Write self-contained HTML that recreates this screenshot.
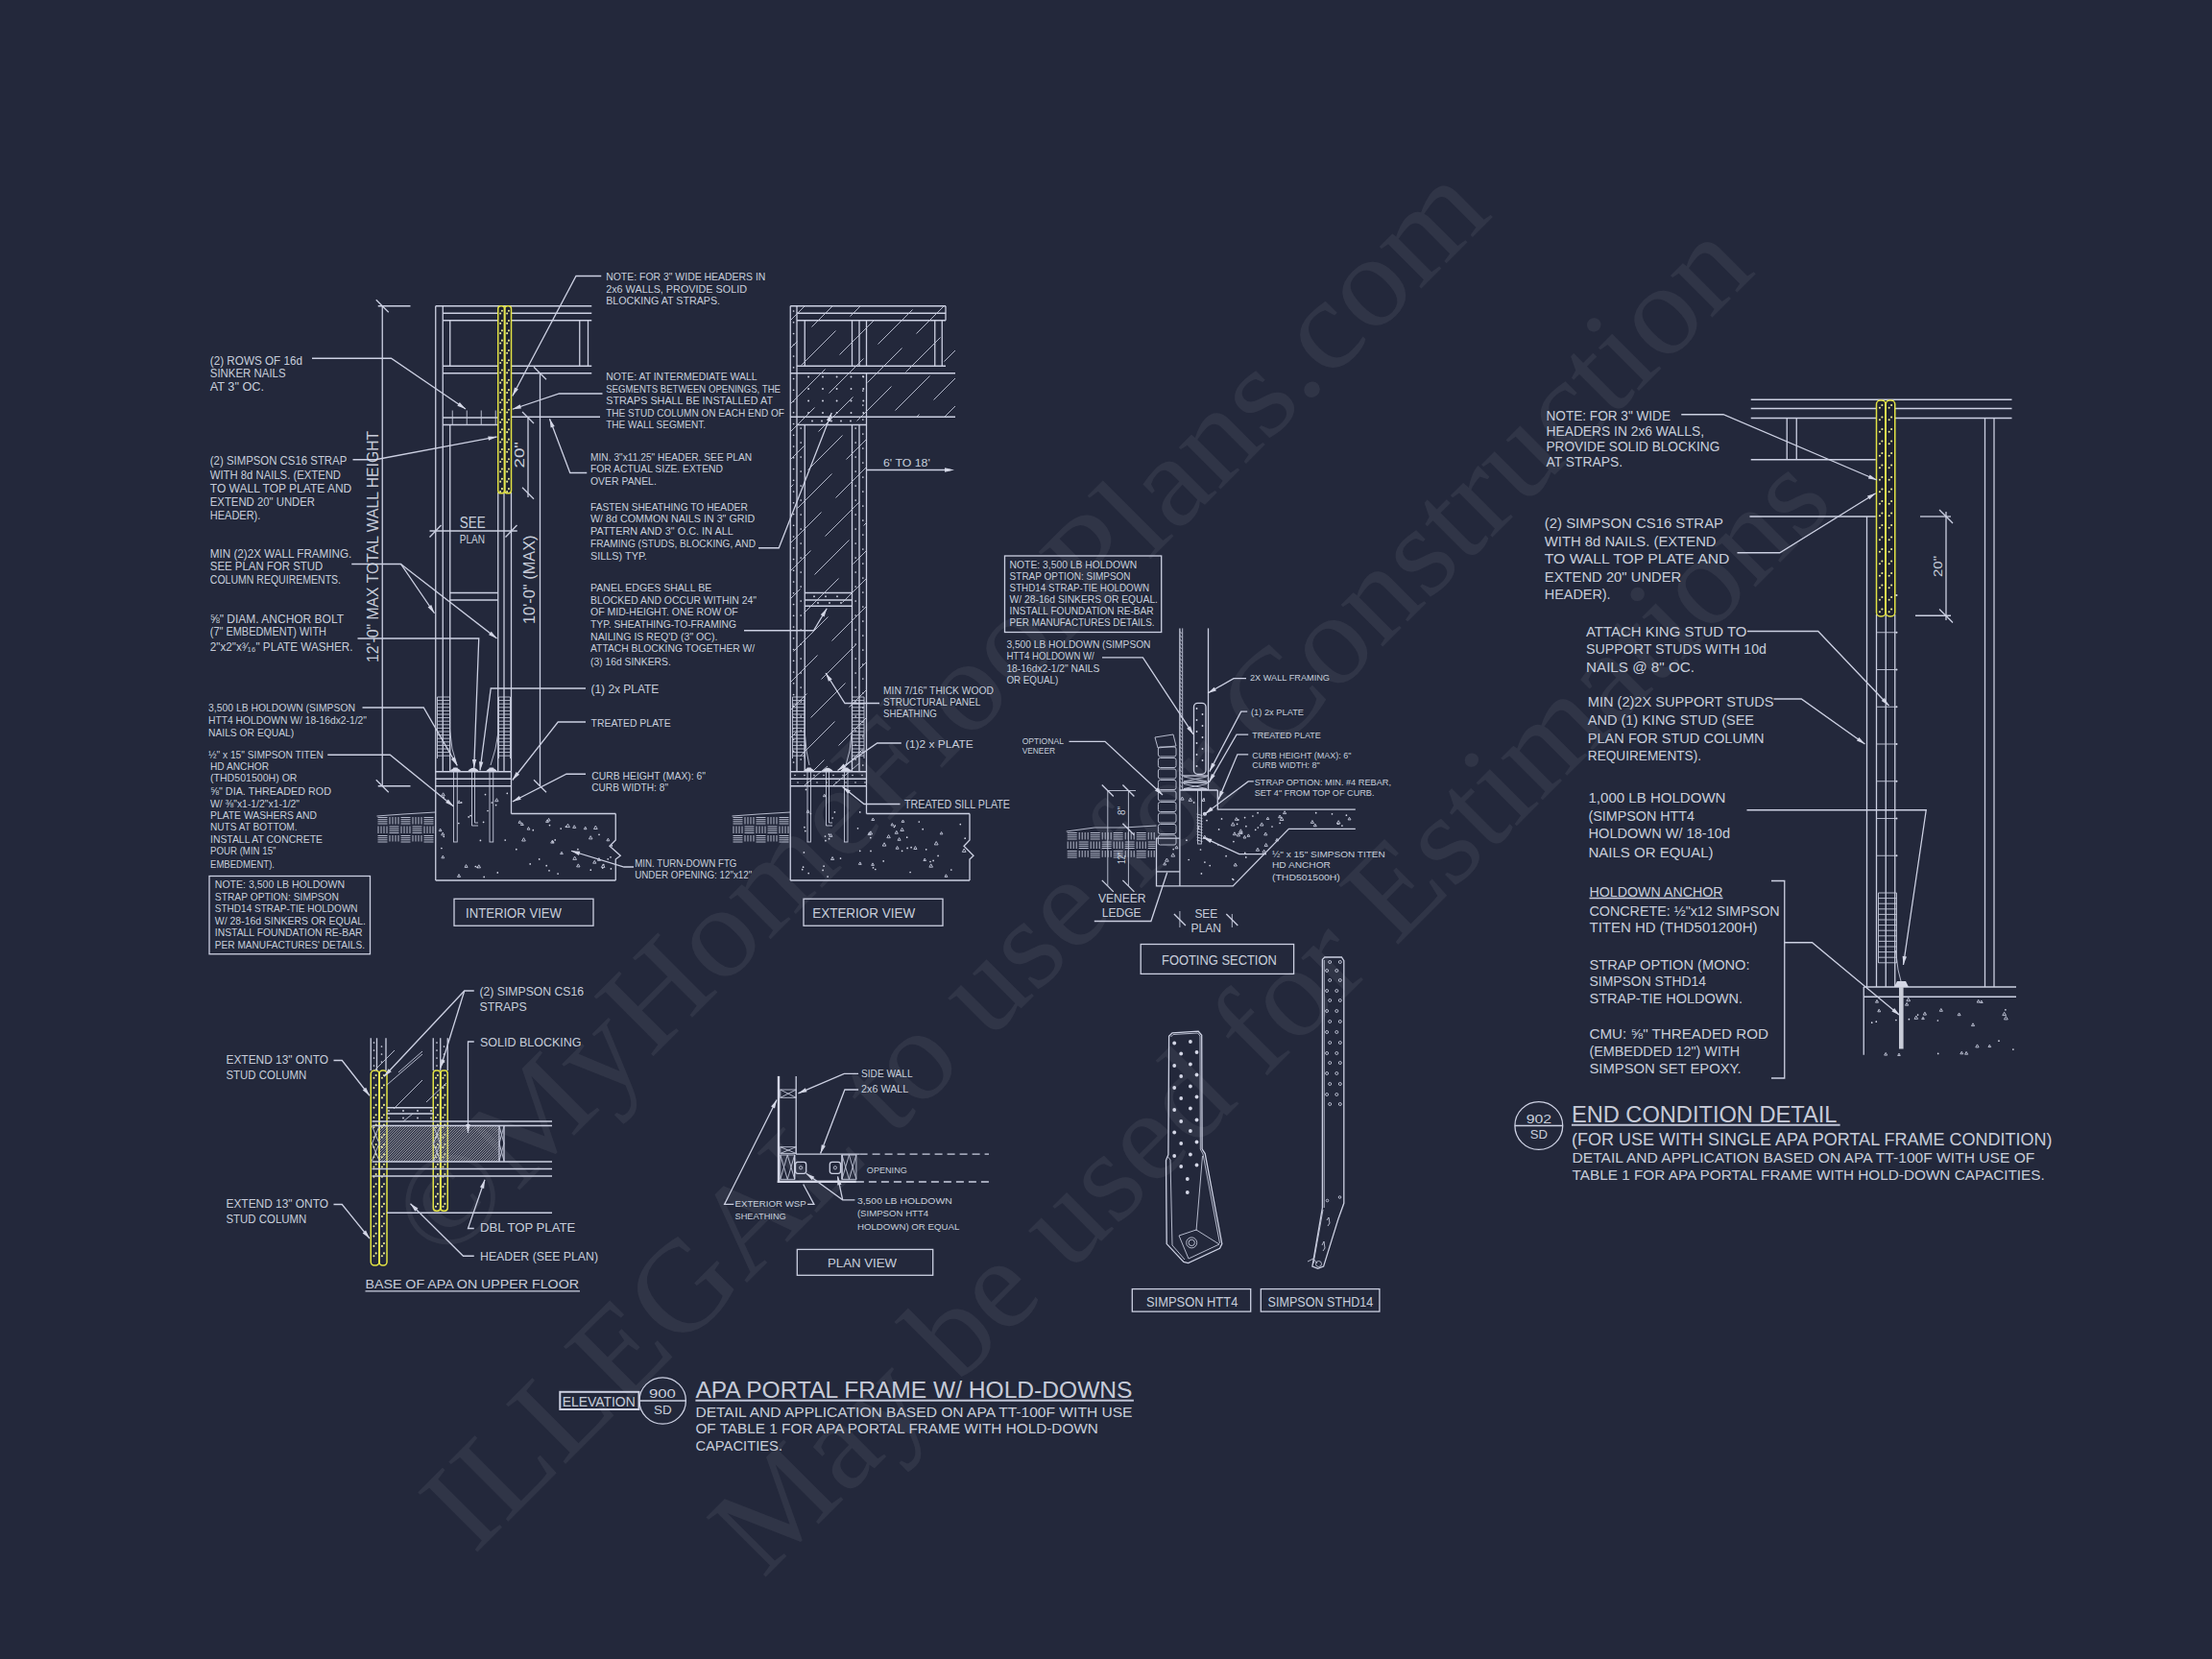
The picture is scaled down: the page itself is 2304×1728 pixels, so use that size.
<!DOCTYPE html>
<html><head><meta charset="utf-8"><style>
html,body{margin:0;padding:0;background:#23283b;width:2304px;height:1728px;overflow:hidden}
svg{display:block;position:absolute;left:0;top:0}
text{font-family:"Liberation Sans",sans-serif;fill:#dfe2ee;fill-opacity:0.9}
.wm text{font-family:"Liberation Serif",serif;fill:#ffffff;fill-opacity:0.062}
.l{fill:none;stroke:#ccd0e2;stroke-width:1.3}
.lt{fill:none;stroke:#c4c8da;stroke-width:0.9}
.lk{fill:none;stroke:#c0c4d6;stroke-width:2}
.ah{fill:#d4d7e6;stroke:none}
.y{fill:none;stroke:#e8e820;stroke-width:1.4}
.yd{fill:#ecec90}
.wd{fill:#d4d7e6}
.dash{fill:none;stroke:#ccd0e2;stroke-width:1.3;stroke-dasharray:8 5}
.hat{fill:none;stroke:#c8c8d0;stroke-width:0.8}
</style></head><body>
<svg width="2304" height="1728" viewBox="0 0 2304 1728">
<g class="wm">
<text transform="translate(462.0,1318.8) rotate(-45)" font-size="134" textLength="1547.6" lengthAdjust="spacingAndGlyphs">©MyHomeFloorPlans.com</text>
<text transform="translate(493.8,1620.1) rotate(-45)" font-size="134" textLength="1890.1" lengthAdjust="spacingAndGlyphs">ILLEGAL to use for Construction</text>
<text transform="translate(794.7,1645.3) rotate(-45)" font-size="134" textLength="1581" lengthAdjust="spacingAndGlyphs">May be used for Estimations</text>
</g>
<path class="l" d="M398.25 318.75 L398.25 818.75"/>
<path class="l" d="M391.75 312.25 L404.75 325.25"/>
<path class="l" d="M391.75 812.25 L404.75 825.25"/>
<path class="l" d="M393.75 318.75 L427.50 318.75"/>
<path class="l" d="M393.75 818.75 L427.50 818.75"/>
<path class="l" d="M453.75 318.75 L453.75 917.00"/>
<path class="l" d="M461.25 318.75 L461.25 803.75"/>
<path class="l" d="M453.75 318.75 L616.25 318.75"/>
<path class="l" d="M461.25 326.25 L616.25 326.25"/>
<path class="l" d="M461.25 333.75 L616.25 333.75"/>
<path class="l" d="M468.75 333.75 L468.75 381.25"/>
<path class="l" d="M603.75 333.75 L603.75 381.25"/>
<path class="l" d="M612.50 333.75 L612.50 381.25"/>
<path class="l" d="M461.25 381.25 L616.25 381.25"/>
<path class="l" d="M461.25 388.75 L616.25 388.75"/>
<path class="l" d="M562.50 388.75 L562.50 818.75"/>
<path class="l" d="M556.00 382.25 L569.00 395.25"/>
<path class="l" d="M556.00 812.25 L569.00 825.25"/>
<path class="l" d="M518.75 513.00 L518.75 803.75"/>
<path class="l" d="M525.00 513.00 L525.00 803.75"/>
<path class="l" d="M532.50 513.00 L532.50 803.75"/>
<path class="l" d="M461.25 435.00 L518.75 435.00"/>
<path class="l" d="M461.25 442.50 L518.75 442.50"/>
<path class="lt" d="M471.25 427.50 L471.25 442.50"/>
<path class="lt" d="M486.25 427.50 L486.25 442.50"/>
<path class="lt" d="M501.25 427.50 L501.25 442.50"/>
<path class="lt" d="M516.25 427.50 L516.25 442.50"/>
<path class="l" d="M468.75 442.50 L468.75 803.75"/>
<path class="l" d="M468.75 617.50 L518.75 617.50"/>
<path class="l" d="M468.75 625.00 L518.75 625.00"/>
<rect x="518.75" y="318.75" width="6.75" height="195.00" rx="2.87" ry="2.87" fill="#1e2130" stroke="#e2e244" stroke-width="1.5"/>
<circle class="yd" cx="522.93" cy="323.75" r="1.05"/>
<circle class="yd" cx="521.18" cy="326.55" r="1.05"/>
<circle class="yd" cx="522.93" cy="334.05" r="1.05"/>
<circle class="yd" cx="521.18" cy="336.85" r="1.05"/>
<circle class="yd" cx="522.93" cy="344.35" r="1.05"/>
<circle class="yd" cx="521.18" cy="347.15" r="1.05"/>
<circle class="yd" cx="522.93" cy="354.65" r="1.05"/>
<circle class="yd" cx="521.18" cy="357.45" r="1.05"/>
<circle class="yd" cx="522.93" cy="364.95" r="1.05"/>
<circle class="yd" cx="521.18" cy="367.75" r="1.05"/>
<circle class="yd" cx="522.93" cy="375.25" r="1.05"/>
<circle class="yd" cx="521.18" cy="378.05" r="1.05"/>
<circle class="yd" cx="522.93" cy="385.55" r="1.05"/>
<circle class="yd" cx="521.18" cy="388.35" r="1.05"/>
<circle class="yd" cx="522.93" cy="395.85" r="1.05"/>
<circle class="yd" cx="521.18" cy="398.65" r="1.05"/>
<circle class="yd" cx="522.93" cy="406.15" r="1.05"/>
<circle class="yd" cx="521.18" cy="408.95" r="1.05"/>
<circle class="yd" cx="522.93" cy="416.45" r="1.05"/>
<circle class="yd" cx="521.18" cy="419.25" r="1.05"/>
<circle class="yd" cx="522.93" cy="426.75" r="1.05"/>
<circle class="yd" cx="521.18" cy="429.55" r="1.05"/>
<circle class="yd" cx="522.93" cy="437.05" r="1.05"/>
<circle class="yd" cx="521.18" cy="439.85" r="1.05"/>
<circle class="yd" cx="522.93" cy="447.35" r="1.05"/>
<circle class="yd" cx="521.18" cy="450.15" r="1.05"/>
<circle class="yd" cx="522.93" cy="457.65" r="1.05"/>
<circle class="yd" cx="521.18" cy="460.45" r="1.05"/>
<circle class="yd" cx="522.93" cy="467.95" r="1.05"/>
<circle class="yd" cx="521.18" cy="470.75" r="1.05"/>
<circle class="yd" cx="522.93" cy="478.25" r="1.05"/>
<circle class="yd" cx="521.18" cy="481.05" r="1.05"/>
<circle class="yd" cx="522.93" cy="488.55" r="1.05"/>
<circle class="yd" cx="521.18" cy="491.35" r="1.05"/>
<circle class="yd" cx="522.93" cy="498.85" r="1.05"/>
<circle class="yd" cx="521.18" cy="501.65" r="1.05"/>
<circle class="yd" cx="522.93" cy="509.15" r="1.05"/>
<circle class="yd" cx="521.18" cy="511.95" r="1.05"/>
<rect x="525.75" y="318.75" width="6.75" height="195.00" rx="2.87" ry="2.87" fill="#1e2130" stroke="#e2e244" stroke-width="1.5"/>
<circle class="yd" cx="529.93" cy="323.75" r="1.05"/>
<circle class="yd" cx="528.18" cy="326.55" r="1.05"/>
<circle class="yd" cx="529.93" cy="334.05" r="1.05"/>
<circle class="yd" cx="528.18" cy="336.85" r="1.05"/>
<circle class="yd" cx="529.93" cy="344.35" r="1.05"/>
<circle class="yd" cx="528.18" cy="347.15" r="1.05"/>
<circle class="yd" cx="529.93" cy="354.65" r="1.05"/>
<circle class="yd" cx="528.18" cy="357.45" r="1.05"/>
<circle class="yd" cx="529.93" cy="364.95" r="1.05"/>
<circle class="yd" cx="528.18" cy="367.75" r="1.05"/>
<circle class="yd" cx="529.93" cy="375.25" r="1.05"/>
<circle class="yd" cx="528.18" cy="378.05" r="1.05"/>
<circle class="yd" cx="529.93" cy="385.55" r="1.05"/>
<circle class="yd" cx="528.18" cy="388.35" r="1.05"/>
<circle class="yd" cx="529.93" cy="395.85" r="1.05"/>
<circle class="yd" cx="528.18" cy="398.65" r="1.05"/>
<circle class="yd" cx="529.93" cy="406.15" r="1.05"/>
<circle class="yd" cx="528.18" cy="408.95" r="1.05"/>
<circle class="yd" cx="529.93" cy="416.45" r="1.05"/>
<circle class="yd" cx="528.18" cy="419.25" r="1.05"/>
<circle class="yd" cx="529.93" cy="426.75" r="1.05"/>
<circle class="yd" cx="528.18" cy="429.55" r="1.05"/>
<circle class="yd" cx="529.93" cy="437.05" r="1.05"/>
<circle class="yd" cx="528.18" cy="439.85" r="1.05"/>
<circle class="yd" cx="529.93" cy="447.35" r="1.05"/>
<circle class="yd" cx="528.18" cy="450.15" r="1.05"/>
<circle class="yd" cx="529.93" cy="457.65" r="1.05"/>
<circle class="yd" cx="528.18" cy="460.45" r="1.05"/>
<circle class="yd" cx="529.93" cy="467.95" r="1.05"/>
<circle class="yd" cx="528.18" cy="470.75" r="1.05"/>
<circle class="yd" cx="529.93" cy="478.25" r="1.05"/>
<circle class="yd" cx="528.18" cy="481.05" r="1.05"/>
<circle class="yd" cx="529.93" cy="488.55" r="1.05"/>
<circle class="yd" cx="528.18" cy="491.35" r="1.05"/>
<circle class="yd" cx="529.93" cy="498.85" r="1.05"/>
<circle class="yd" cx="528.18" cy="501.65" r="1.05"/>
<circle class="yd" cx="529.93" cy="509.15" r="1.05"/>
<circle class="yd" cx="528.18" cy="511.95" r="1.05"/>
<path d="M525.6 321 L525.6 511.5" stroke="#e6e650" stroke-width="1.6"/>
<path class="l" d="M550.00 434.00 L550.00 518.00"/>
<path class="l" d="M544.00 429.00 L556.00 441.00"/>
<path class="l" d="M544.00 507.75 L556.00 519.75"/>
<path class="l" d="M447.50 553.00 L538.75 553.00"/>
<path class="l" d="M447.50 559.50 L459.50 547.00"/>
<path class="l" d="M526.50 559.50 L538.50 547.00"/>
<path class="lt" d="M455.5 726.0 L468.5 726.0 M455.5 729.6 L468.5 729.6 M455.5 733.2 L468.5 733.2 M455.5 736.8 L468.5 736.8 M455.5 740.4 L468.5 740.4 M455.5 744.0 L468.5 744.0 M455.5 747.6 L468.5 747.6 M455.5 751.2 L468.5 751.2 M455.5 754.8 L468.5 754.8 M455.5 758.4 L468.5 758.4 M455.5 762.0 L468.5 762.0 M455.5 765.6 L468.5 765.6 M455.5 769.2 L468.5 769.2 M455.5 772.8 L468.5 772.8 M455.5 776.4 L468.5 776.4 M455.5 780.0 L468.5 780.0 M455.5 783.6 L468.5 783.6 M455.5 787.2 L468.5 787.2"/>
<path class="lt" d="M455.50 726.00 L455.50 790.00"/>
<path class="lt" d="M468.50 726.00 L468.50 790.00"/>
<path class="lt" d="M519.5 726.0 L531.5 726.0 M519.5 729.6 L531.5 729.6 M519.5 733.2 L531.5 733.2 M519.5 736.8 L531.5 736.8 M519.5 740.4 L531.5 740.4 M519.5 744.0 L531.5 744.0 M519.5 747.6 L531.5 747.6 M519.5 751.2 L531.5 751.2 M519.5 754.8 L531.5 754.8 M519.5 758.4 L531.5 758.4 M519.5 762.0 L531.5 762.0 M519.5 765.6 L531.5 765.6 M519.5 769.2 L531.5 769.2 M519.5 772.8 L531.5 772.8 M519.5 776.4 L531.5 776.4 M519.5 780.0 L531.5 780.0 M519.5 783.6 L531.5 783.6 M519.5 787.2 L531.5 787.2"/>
<path class="lt" d="M519.50 726.00 L519.50 790.00"/>
<path class="lt" d="M531.50 726.00 L531.50 790.00"/>
<path class="lt" d="M468.50 760.00 L471.00 780.00 L476.00 797.00"/>
<path class="lt" d="M519.50 760.00 L516.00 780.00 L511.00 797.00"/>
<rect class="lt" x="472.50" y="800.00" width="3.75" height="77.00"/>
<rect class="lt" x="510.00" y="800.00" width="3.75" height="77.00"/>
<path class="lt" d="M491.50 800.00 L491.50 860.00 L498.00 860.00"/>
<path class="lt" d="M494.50 800.00 L494.50 857.00 L498.00 857.00"/>
<path class="wd" d="M468.4 803.5 Q474.4 796 480.4 803.5 Z"/>
<path class="wd" d="M487.0 803.5 Q493.0 796 499.0 803.5 Z"/>
<path class="wd" d="M505.9 803.5 Q511.9 796 517.9 803.5 Z"/>
<path class="l" d="M453.75 803.75 L532.50 803.75"/>
<path class="l" d="M453.75 811.25 L532.50 811.25"/>
<path class="l" d="M453.75 818.75 L532.50 818.75"/>
<path class="l" d="M532.50 803.75 L532.50 847.50"/>
<path class="l" d="M532.50 847.50 L641.25 847.50"/>
<path class="l" d="M641.25 847.50 L641.25 875.00 L635.00 881.25 L646.25 891.25 L641.25 895.00 L641.25 917.00"/>
<path class="l" d="M453.75 917.00 L641.25 917.00"/>
<circle class="wd" cx="480.6" cy="835.9" r="0.85"/>
<circle class="wd" cx="462.3" cy="871.3" r="0.85"/>
<path class="lt" d="M461.2 867.1 L462.8 869.9 L459.7 869.9 Z"/>
<circle class="wd" cx="462.1" cy="830.3" r="0.85"/>
<path class="lt" d="M517.4 831.7 L519.0 834.7 L515.7 834.7 Z"/>
<circle class="wd" cx="526.2" cy="875.1" r="0.85"/>
<circle class="wd" cx="528.3" cy="826.3" r="0.85"/>
<path class="lt" d="M478.1 833.8 L479.6 836.5 L476.7 836.5 Z"/>
<circle class="wd" cx="516.6" cy="838.6" r="0.85"/>
<circle class="wd" cx="503.6" cy="856.3" r="0.85"/>
<path class="lt" d="M461.6 825.8 L463.3 828.8 L459.9 828.8 Z"/>
<circle class="wd" cx="488.2" cy="850.9" r="0.85"/>
<circle class="wd" cx="490.1" cy="849.6" r="0.85"/>
<circle class="wd" cx="508.0" cy="844.5" r="0.85"/>
<circle class="wd" cx="495.3" cy="902.5" r="0.85"/>
<path class="lt" d="M478.0 910.6 L479.6 913.4 L476.5 913.4 Z"/>
<circle class="wd" cx="512.3" cy="836.0" r="0.85"/>
<circle class="wd" cx="459.9" cy="883.5" r="0.85"/>
<path class="lt" d="M498.8 900.8 L500.5 903.9 L497.1 903.9 Z"/>
<circle class="wd" cx="500.4" cy="875.4" r="0.85"/>
<circle class="wd" cx="518.3" cy="908.9" r="0.85"/>
<circle class="wd" cx="505.5" cy="827.6" r="0.85"/>
<circle class="wd" cx="504.2" cy="913.4" r="0.85"/>
<circle class="wd" cx="477.8" cy="857.5" r="0.85"/>
<path class="lt" d="M458.6 863.1 L460.0 865.6 L457.3 865.6 Z"/>
<path class="lt" d="M461.3 891.2 L462.8 893.8 L459.9 893.8 Z"/>
<path class="lt" d="M485.5 900.6 L487.1 903.4 L484.0 903.4 Z"/>
<circle class="wd" cx="497.1" cy="903.3" r="0.85"/>
<circle class="wd" cx="624.0" cy="869.3" r="0.85"/>
<circle class="wd" cx="572.0" cy="906.8" r="0.85"/>
<path class="lt" d="M550.5 861.5 L552.0 864.1 L549.1 864.1 Z"/>
<path class="lt" d="M585.0 887.2 L586.3 889.6 L583.6 889.6 Z"/>
<circle class="wd" cx="578.2" cy="874.9" r="0.85"/>
<circle class="wd" cx="633.2" cy="894.8" r="0.85"/>
<path class="lt" d="M598.6 892.1 L600.5 895.4 L596.8 895.4 Z"/>
<circle class="wd" cx="615.3" cy="906.2" r="0.85"/>
<path class="lt" d="M575.4 875.1 L577.1 878.1 L573.7 878.1 Z"/>
<path class="lt" d="M541.4 854.8 L542.8 857.3 L540.0 857.3 Z"/>
<path class="lt" d="M570.0 853.9 L571.4 856.4 L568.6 856.4 Z"/>
<path class="lt" d="M545.5 872.7 L547.3 876.0 L543.6 876.0 Z"/>
<path class="lt" d="M598.2 859.7 L599.8 862.4 L596.7 862.4 Z"/>
<circle class="wd" cx="572.5" cy="859.6" r="0.85"/>
<circle class="wd" cx="637.3" cy="880.9" r="0.85"/>
<path class="lt" d="M543.8 856.9 L545.3 859.5 L542.4 859.5 Z"/>
<path class="lt" d="M620.4 860.1 L622.2 863.5 L618.5 863.5 Z"/>
<circle class="wd" cx="589.4" cy="861.1" r="0.85"/>
<circle class="wd" cx="537.8" cy="884.7" r="0.85"/>
<path class="lt" d="M623.9 893.6 L625.4 896.4 L622.4 896.4 Z"/>
<circle class="wd" cx="552.2" cy="899.9" r="0.85"/>
<path class="lt" d="M615.2 870.7 L617.0 873.9 L613.5 873.9 Z"/>
<circle class="wd" cx="636.4" cy="904.9" r="0.85"/>
<path class="lt" d="M619.3 896.3 L620.9 899.2 L617.7 899.2 Z"/>
<path class="lt" d="M571.6 852.3 L573.1 855.0 L570.2 855.0 Z"/>
<circle class="wd" cx="561.7" cy="894.9" r="0.85"/>
<circle class="wd" cx="581.1" cy="910.1" r="0.85"/>
<path class="lt" d="M633.4 873.2 L634.8 875.8 L631.9 875.8 Z"/>
<circle class="wd" cx="555.3" cy="864.7" r="0.85"/>
<circle class="wd" cx="627.7" cy="904.1" r="0.85"/>
<path class="lt" d="M602.3 899.9 L604.0 902.9 L600.6 902.9 Z"/>
<circle class="wd" cx="628.7" cy="900.5" r="0.85"/>
<circle class="wd" cx="584.2" cy="863.1" r="0.85"/>
<circle class="wd" cx="569.2" cy="901.7" r="0.85"/>
<circle class="wd" cx="575.8" cy="876.9" r="0.85"/>
<path class="lt" d="M609.7 861.1 L611.0 863.7 L608.3 863.7 Z"/>
<path class="lt" d="M628.2 900.2 L630.0 903.4 L626.4 903.4 Z"/>
<circle class="wd" cx="636.0" cy="892.8" r="0.85"/>
<path class="lt" d="M591.5 858.2 L593.4 861.6 L589.6 861.6 Z"/>
<circle class="wd" cx="601.9" cy="884.6" r="0.85"/>
<g class="lt">
<path d="M393.5 851.5 L403.5 851.5"/>
<path d="M393.5 853.7 L403.5 853.7"/>
<path d="M393.5 855.8 L403.5 855.8"/>
<path d="M393.5 858.0 L403.5 858.0"/>
<path d="M406.0 851.0 L406.0 858.5"/>
<path d="M409.0 851.0 L409.0 858.5"/>
<path d="M412.0 851.0 L412.0 858.5"/>
<path d="M415.0 851.0 L415.0 858.5"/>
<path d="M417.5 851.5 L427.5 851.5"/>
<path d="M417.5 853.7 L427.5 853.7"/>
<path d="M417.5 855.8 L427.5 855.8"/>
<path d="M417.5 858.0 L427.5 858.0"/>
<path d="M430.0 851.0 L430.0 858.5"/>
<path d="M433.0 851.0 L433.0 858.5"/>
<path d="M436.0 851.0 L436.0 858.5"/>
<path d="M439.0 851.0 L439.0 858.5"/>
<path d="M441.5 851.5 L451.5 851.5"/>
<path d="M441.5 853.7 L451.5 853.7"/>
<path d="M441.5 855.8 L451.5 855.8"/>
<path d="M441.5 858.0 L451.5 858.0"/>
<path d="M394.0 860.5 L394.0 868.0"/>
<path d="M397.0 860.5 L397.0 868.0"/>
<path d="M400.0 860.5 L400.0 868.0"/>
<path d="M403.0 860.5 L403.0 868.0"/>
<path d="M405.5 861.0 L415.5 861.0"/>
<path d="M405.5 863.2 L415.5 863.2"/>
<path d="M405.5 865.3 L415.5 865.3"/>
<path d="M405.5 867.5 L415.5 867.5"/>
<path d="M418.0 860.5 L418.0 868.0"/>
<path d="M421.0 860.5 L421.0 868.0"/>
<path d="M424.0 860.5 L424.0 868.0"/>
<path d="M427.0 860.5 L427.0 868.0"/>
<path d="M429.5 861.0 L439.5 861.0"/>
<path d="M429.5 863.2 L439.5 863.2"/>
<path d="M429.5 865.3 L439.5 865.3"/>
<path d="M429.5 867.5 L439.5 867.5"/>
<path d="M442.0 860.5 L442.0 868.0"/>
<path d="M445.0 860.5 L445.0 868.0"/>
<path d="M448.0 860.5 L448.0 868.0"/>
<path d="M451.0 860.5 L451.0 868.0"/>
<path d="M453.5 861.0 L452.8 861.0"/>
<path d="M453.5 863.2 L452.8 863.2"/>
<path d="M453.5 865.3 L452.8 865.3"/>
<path d="M453.5 867.5 L452.8 867.5"/>
<path d="M393.5 870.5 L403.5 870.5"/>
<path d="M393.5 872.7 L403.5 872.7"/>
<path d="M393.5 874.8 L403.5 874.8"/>
<path d="M393.5 877.0 L403.5 877.0"/>
<path d="M406.0 870.0 L406.0 876.5"/>
<path d="M409.0 870.0 L409.0 876.5"/>
<path d="M412.0 870.0 L412.0 876.5"/>
<path d="M415.0 870.0 L415.0 876.5"/>
<path d="M417.5 870.5 L427.5 870.5"/>
<path d="M417.5 872.7 L427.5 872.7"/>
<path d="M417.5 874.8 L427.5 874.8"/>
<path d="M417.5 877.0 L427.5 877.0"/>
<path d="M430.0 870.0 L430.0 876.5"/>
<path d="M433.0 870.0 L433.0 876.5"/>
<path d="M436.0 870.0 L436.0 876.5"/>
<path d="M439.0 870.0 L439.0 876.5"/>
<path d="M441.5 870.5 L451.5 870.5"/>
<path d="M441.5 872.7 L451.5 872.7"/>
<path d="M441.5 874.8 L451.5 874.8"/>
<path d="M441.5 877.0 L451.5 877.0"/>
</g>
<path class="lt" d="M392.50 850.00 L420.00 848.00 L453.75 846.00"/>
<rect class="l" x="473.00" y="936.25" width="145.00" height="28.00"/>
<rect class="l" x="218.00" y="912.50" width="167.50" height="81.25"/>
<path class="l" d="M325.00 373.25 L407.50 373.25 L485.00 426.00"/>
<path class="ah" d="M485.00 426.00 L476.32 422.75 L478.80 419.12 Z"/>
<path class="l" d="M367.50 478.75 L391.25 478.75 L517.50 455.00"/>
<path class="ah" d="M517.50 455.00 L509.06 458.83 L508.25 454.50 Z"/>
<path class="l" d="M366.25 587.50 L417.50 587.50 L452.50 638.75"/>
<path class="ah" d="M452.50 638.75 L445.61 632.56 L449.24 630.08 Z"/>
<path class="l" d="M417.50 587.50 L517.50 665.00"/>
<path class="ah" d="M517.50 665.00 L509.04 661.23 L511.73 657.75 Z"/>
<path class="l" d="M372.50 665.00 L498.75 665.00 L493.75 800.00"/>
<path class="ah" d="M493.75 800.00 L491.88 790.92 L496.28 791.09 Z"/>
<path class="l" d="M377.50 737.00 L441.25 737.00 L476.25 797.50"/>
<path class="ah" d="M476.25 797.50 L469.84 790.81 L473.65 788.61 Z"/>
<path class="l" d="M341.25 786.25 L406.25 786.25 L472.50 840.00"/>
<path class="ah" d="M472.50 840.00 L464.12 836.04 L466.90 832.62 Z"/>
<path class="l" d="M610.00 717.00 L511.25 717.00 L500.00 802.50"/>
<path class="ah" d="M500.00 802.50 L498.99 793.29 L503.36 793.86 Z"/>
<path class="l" d="M610.00 752.00 L581.25 752.00 L533.75 812.50"/>
<path class="ah" d="M533.75 812.50 L537.58 804.06 L541.04 806.78 Z"/>
<path class="l" d="M610.00 806.25 L590.00 806.25 L533.75 835.00"/>
<path class="ah" d="M533.75 835.00 L540.76 828.95 L542.77 832.86 Z"/>
<path class="l" d="M660.00 903.00 L650.00 903.00 L595.00 886.25"/>
<path class="ah" d="M595.00 886.25 L604.25 886.77 L602.97 890.98 Z"/>
<path class="l" d="M626.25 287.50 L600.00 287.50 L533.75 412.50"/>
<path class="ah" d="M533.75 412.50 L536.02 403.52 L539.91 405.58 Z"/>
<path class="l" d="M627.50 410.00 L582.50 410.00 L533.75 426.25"/>
<path class="ah" d="M533.75 426.25 L541.59 421.32 L542.98 425.49 Z"/>
<path class="l" d="M533.00 434.25 L625.00 434.25"/>
<path class="l" d="M611.25 492.50 L593.75 492.50 L572.50 436.25"/>
<path class="ah" d="M572.50 436.25 L577.74 443.89 L573.62 445.45 Z"/>
<path class="l" d="M823.25 318.75 L823.25 917.00"/>
<path class="l" d="M830.00 318.75 L830.00 803.75"/>
<path class="l" d="M823.25 318.75 L985.00 318.75"/>
<path class="l" d="M830.00 326.25 L985.00 326.25"/>
<path class="l" d="M830.00 333.75 L985.00 333.75"/>
<path class="l" d="M985.00 318.75 L985.00 333.75"/>
<path class="l" d="M838.25 333.75 L838.25 381.25"/>
<path class="l" d="M887.50 333.75 L887.50 381.25"/>
<path class="l" d="M895.00 333.75 L895.00 381.25"/>
<path class="l" d="M902.50 333.75 L902.50 381.25"/>
<path class="l" d="M973.75 333.75 L973.75 381.25"/>
<path class="l" d="M981.25 333.75 L981.25 381.25"/>
<path class="l" d="M830.00 381.25 L985.00 381.25"/>
<path class="l" d="M823.25 388.75 L995.00 388.75"/>
<path class="l" d="M823.25 434.25 L995.00 434.25"/>
<path class="l" d="M830.00 442.50 L902.50 442.50"/>
<path class="l" d="M902.50 388.75 L902.50 818.75"/>
<path class="l" d="M838.25 442.50 L838.25 803.75"/>
<path class="l" d="M887.50 442.50 L887.50 803.75"/>
<path class="l" d="M895.00 442.50 L895.00 803.75"/>
<path class="l" d="M838.25 617.50 L887.50 617.50"/>
<path class="l" d="M838.25 625.00 L887.50 625.00"/>
<path class="l" d="M838.25 631.25 L887.50 631.25"/>
<circle class="wd" cx="842.1" cy="392.5" r="0.95"/>
<circle class="wd" cx="857" cy="392.5" r="0.95"/>
<circle class="wd" cx="871.6" cy="392.5" r="0.95"/>
<circle class="wd" cx="886.5" cy="392.5" r="0.95"/>
<circle class="wd" cx="899.3" cy="392.5" r="0.95"/>
<circle class="wd" cx="842.1" cy="405" r="0.95"/>
<circle class="wd" cx="857" cy="405" r="0.95"/>
<circle class="wd" cx="871.6" cy="405" r="0.95"/>
<circle class="wd" cx="886.5" cy="405" r="0.95"/>
<circle class="wd" cx="899.3" cy="405" r="0.95"/>
<circle class="wd" cx="842.1" cy="417.5" r="0.95"/>
<circle class="wd" cx="857" cy="417.5" r="0.95"/>
<circle class="wd" cx="871.6" cy="417.5" r="0.95"/>
<circle class="wd" cx="886.5" cy="417.5" r="0.95"/>
<circle class="wd" cx="899.3" cy="417.5" r="0.95"/>
<circle class="wd" cx="842.1" cy="430" r="0.95"/>
<circle class="wd" cx="857" cy="430" r="0.95"/>
<circle class="wd" cx="871.6" cy="430" r="0.95"/>
<circle class="wd" cx="886.5" cy="430" r="0.95"/>
<circle class="wd" cx="899.3" cy="430" r="0.95"/>
<circle class="wd" cx="846" cy="438.5" r="0.9"/>
<circle class="wd" cx="856" cy="438.5" r="0.9"/>
<circle class="wd" cx="866" cy="438.5" r="0.9"/>
<circle class="wd" cx="876" cy="438.5" r="0.9"/>
<circle class="wd" cx="886" cy="438.5" r="0.9"/>
<circle class="wd" cx="848" cy="621.25" r="0.9"/>
<circle class="wd" cx="852" cy="628" r="0.9"/>
<circle class="wd" cx="860" cy="621.25" r="0.9"/>
<circle class="wd" cx="864" cy="628" r="0.9"/>
<circle class="wd" cx="872" cy="621.25" r="0.9"/>
<circle class="wd" cx="876" cy="628" r="0.9"/>
<circle class="wd" cx="826.60" cy="324.00" r="0.85"/>
<circle class="wd" cx="826.60" cy="335.75" r="0.85"/>
<circle class="wd" cx="826.60" cy="347.50" r="0.85"/>
<circle class="wd" cx="826.60" cy="359.25" r="0.85"/>
<circle class="wd" cx="826.60" cy="371.00" r="0.85"/>
<circle class="wd" cx="826.60" cy="382.75" r="0.85"/>
<circle class="wd" cx="826.60" cy="394.50" r="0.85"/>
<circle class="wd" cx="826.60" cy="406.25" r="0.85"/>
<circle class="wd" cx="826.60" cy="418.00" r="0.85"/>
<circle class="wd" cx="826.60" cy="429.75" r="0.85"/>
<circle class="wd" cx="826.60" cy="441.50" r="0.85"/>
<circle class="wd" cx="826.60" cy="453.25" r="0.85"/>
<circle class="wd" cx="826.60" cy="465.00" r="0.85"/>
<circle class="wd" cx="826.60" cy="476.75" r="0.85"/>
<circle class="wd" cx="826.60" cy="488.50" r="0.85"/>
<circle class="wd" cx="826.60" cy="500.25" r="0.85"/>
<circle class="wd" cx="826.60" cy="512.00" r="0.85"/>
<circle class="wd" cx="826.60" cy="523.75" r="0.85"/>
<circle class="wd" cx="826.60" cy="535.50" r="0.85"/>
<circle class="wd" cx="826.60" cy="547.25" r="0.85"/>
<circle class="wd" cx="826.60" cy="559.00" r="0.85"/>
<circle class="wd" cx="826.60" cy="570.75" r="0.85"/>
<circle class="wd" cx="826.60" cy="582.50" r="0.85"/>
<circle class="wd" cx="826.60" cy="594.25" r="0.85"/>
<circle class="wd" cx="826.60" cy="606.00" r="0.85"/>
<circle class="wd" cx="826.60" cy="617.75" r="0.85"/>
<circle class="wd" cx="826.60" cy="629.50" r="0.85"/>
<circle class="wd" cx="826.60" cy="641.25" r="0.85"/>
<circle class="wd" cx="826.60" cy="653.00" r="0.85"/>
<circle class="wd" cx="826.60" cy="664.75" r="0.85"/>
<circle class="wd" cx="826.60" cy="676.50" r="0.85"/>
<circle class="wd" cx="826.60" cy="688.25" r="0.85"/>
<circle class="wd" cx="826.60" cy="700.00" r="0.85"/>
<circle class="wd" cx="826.60" cy="711.75" r="0.85"/>
<circle class="wd" cx="826.60" cy="723.50" r="0.85"/>
<circle class="wd" cx="826.60" cy="735.25" r="0.85"/>
<circle class="wd" cx="826.60" cy="747.00" r="0.85"/>
<circle class="wd" cx="826.60" cy="758.75" r="0.85"/>
<circle class="wd" cx="826.60" cy="770.50" r="0.85"/>
<circle class="wd" cx="826.60" cy="782.25" r="0.85"/>
<circle class="wd" cx="826.60" cy="794.00" r="0.85"/>
<circle class="wd" cx="834.20" cy="446.00" r="0.85"/>
<circle class="wd" cx="834.20" cy="461.00" r="0.85"/>
<circle class="wd" cx="834.20" cy="476.00" r="0.85"/>
<circle class="wd" cx="834.20" cy="491.00" r="0.85"/>
<circle class="wd" cx="834.20" cy="506.00" r="0.85"/>
<circle class="wd" cx="834.20" cy="521.00" r="0.85"/>
<circle class="wd" cx="834.20" cy="536.00" r="0.85"/>
<circle class="wd" cx="834.20" cy="551.00" r="0.85"/>
<circle class="wd" cx="834.20" cy="566.00" r="0.85"/>
<circle class="wd" cx="834.20" cy="581.00" r="0.85"/>
<circle class="wd" cx="834.20" cy="596.00" r="0.85"/>
<circle class="wd" cx="834.20" cy="611.00" r="0.85"/>
<circle class="wd" cx="834.20" cy="626.00" r="0.85"/>
<circle class="wd" cx="834.20" cy="641.00" r="0.85"/>
<circle class="wd" cx="834.20" cy="656.00" r="0.85"/>
<circle class="wd" cx="834.20" cy="671.00" r="0.85"/>
<circle class="wd" cx="834.20" cy="686.00" r="0.85"/>
<circle class="wd" cx="834.20" cy="701.00" r="0.85"/>
<circle class="wd" cx="834.20" cy="716.00" r="0.85"/>
<circle class="wd" cx="834.20" cy="731.00" r="0.85"/>
<circle class="wd" cx="834.20" cy="746.00" r="0.85"/>
<circle class="wd" cx="834.20" cy="761.00" r="0.85"/>
<circle class="wd" cx="834.20" cy="776.00" r="0.85"/>
<circle class="wd" cx="834.20" cy="791.00" r="0.85"/>
<circle class="wd" cx="891.20" cy="446.00" r="0.85"/>
<circle class="wd" cx="891.20" cy="461.00" r="0.85"/>
<circle class="wd" cx="891.20" cy="476.00" r="0.85"/>
<circle class="wd" cx="891.20" cy="491.00" r="0.85"/>
<circle class="wd" cx="891.20" cy="506.00" r="0.85"/>
<circle class="wd" cx="891.20" cy="521.00" r="0.85"/>
<circle class="wd" cx="891.20" cy="536.00" r="0.85"/>
<circle class="wd" cx="891.20" cy="551.00" r="0.85"/>
<circle class="wd" cx="891.20" cy="566.00" r="0.85"/>
<circle class="wd" cx="891.20" cy="581.00" r="0.85"/>
<circle class="wd" cx="891.20" cy="596.00" r="0.85"/>
<circle class="wd" cx="891.20" cy="611.00" r="0.85"/>
<circle class="wd" cx="891.20" cy="626.00" r="0.85"/>
<circle class="wd" cx="891.20" cy="641.00" r="0.85"/>
<circle class="wd" cx="891.20" cy="656.00" r="0.85"/>
<circle class="wd" cx="891.20" cy="671.00" r="0.85"/>
<circle class="wd" cx="891.20" cy="686.00" r="0.85"/>
<circle class="wd" cx="891.20" cy="701.00" r="0.85"/>
<circle class="wd" cx="891.20" cy="716.00" r="0.85"/>
<circle class="wd" cx="891.20" cy="731.00" r="0.85"/>
<circle class="wd" cx="891.20" cy="746.00" r="0.85"/>
<circle class="wd" cx="891.20" cy="761.00" r="0.85"/>
<circle class="wd" cx="891.20" cy="776.00" r="0.85"/>
<circle class="wd" cx="891.20" cy="791.00" r="0.85"/>
<circle class="wd" cx="898.80" cy="392.00" r="0.85"/>
<circle class="wd" cx="898.80" cy="407.00" r="0.85"/>
<circle class="wd" cx="898.80" cy="422.00" r="0.85"/>
<circle class="wd" cx="898.80" cy="437.00" r="0.85"/>
<circle class="wd" cx="898.80" cy="452.00" r="0.85"/>
<circle class="wd" cx="898.80" cy="467.00" r="0.85"/>
<circle class="wd" cx="898.80" cy="482.00" r="0.85"/>
<circle class="wd" cx="898.80" cy="497.00" r="0.85"/>
<circle class="wd" cx="898.80" cy="512.00" r="0.85"/>
<circle class="wd" cx="898.80" cy="527.00" r="0.85"/>
<circle class="wd" cx="898.80" cy="542.00" r="0.85"/>
<circle class="wd" cx="898.80" cy="557.00" r="0.85"/>
<circle class="wd" cx="898.80" cy="572.00" r="0.85"/>
<circle class="wd" cx="898.80" cy="587.00" r="0.85"/>
<circle class="wd" cx="898.80" cy="602.00" r="0.85"/>
<circle class="wd" cx="898.80" cy="617.00" r="0.85"/>
<circle class="wd" cx="898.80" cy="632.00" r="0.85"/>
<circle class="wd" cx="898.80" cy="647.00" r="0.85"/>
<circle class="wd" cx="898.80" cy="662.00" r="0.85"/>
<circle class="wd" cx="898.80" cy="677.00" r="0.85"/>
<circle class="wd" cx="898.80" cy="692.00" r="0.85"/>
<circle class="wd" cx="898.80" cy="707.00" r="0.85"/>
<circle class="wd" cx="898.80" cy="722.00" r="0.85"/>
<circle class="wd" cx="898.80" cy="737.00" r="0.85"/>
<circle class="wd" cx="898.80" cy="752.00" r="0.85"/>
<circle class="wd" cx="898.80" cy="767.00" r="0.85"/>
<circle class="wd" cx="898.80" cy="782.00" r="0.85"/>
<circle class="wd" cx="898.80" cy="797.00" r="0.85"/>
<clipPath id="exth"><path d="M823.25 318.75 H985 V340 H995 V434.25 H902.5 V803.75 H823.25 Z"/></clipPath>
<g clip-path="url(#exth)">
<path class="lt" d="M689.5 235.5 L725.5 199.5 M740.5 184.5 L776.5 148.5 M791.5 133.5 L827.5 97.5 M842.5 82.5 L878.5 46.5 M893.5 31.5 L929.5 -4.5 M944.5 -19.5 L980.5 -55.5 M995.5 -70.5 L1031.5 -106.5 M729.5 224.5 L765.5 188.5 M780.5 173.5 L816.5 137.5 M831.5 122.5 L867.5 86.5 M882.5 71.5 L918.5 35.5 M933.5 20.5 L969.5 -15.5 M984.5 -30.5 L1020.5 -66.5 M718.5 264.5 L754.5 228.5 M769.5 213.5 L805.5 177.5 M820.5 162.5 L856.5 126.5 M871.5 111.5 L907.5 75.5 M922.5 60.5 L958.5 24.5 M973.5 9.5 L1009.5 -26.5 M707.5 304.5 L743.5 268.5 M758.5 253.5 L794.5 217.5 M809.5 202.5 L845.5 166.5 M860.5 151.5 L896.5 115.5 M911.5 100.5 L947.5 64.5 M962.5 49.5 L998.5 13.5 M696.5 344.5 L732.5 308.5 M747.5 293.5 L783.5 257.5 M798.5 242.5 L834.5 206.5 M849.5 191.5 L885.5 155.5 M900.5 140.5 L936.5 104.5 M951.5 89.5 L987.5 53.5 M685.5 384.5 L721.5 348.5 M736.5 333.5 L772.5 297.5 M787.5 282.5 L823.5 246.5 M838.5 231.5 L874.5 195.5 M889.5 180.5 L925.5 144.5 M940.5 129.5 L976.5 93.5 M991.5 78.5 L1027.5 42.5 M725.5 373.5 L761.5 337.5 M776.5 322.5 L812.5 286.5 M827.5 271.5 L863.5 235.5 M878.5 220.5 L914.5 184.5 M929.5 169.5 L965.5 133.5 M980.5 118.5 L1016.5 82.5 M714.5 413.5 L750.5 377.5 M765.5 362.5 L801.5 326.5 M816.5 311.5 L852.5 275.5 M867.5 260.5 L903.5 224.5 M918.5 209.5 L954.5 173.5 M969.5 158.5 L1005.5 122.5 M703.5 453.5 L739.5 417.5 M754.5 402.5 L790.5 366.5 M805.5 351.5 L841.5 315.5 M856.5 300.5 L892.5 264.5 M907.5 249.5 L943.5 213.5 M958.5 198.5 L994.5 162.5 M692.5 493.5 L728.5 457.5 M743.5 442.5 L779.5 406.5 M794.5 391.5 L830.5 355.5 M845.5 340.5 L881.5 304.5 M896.5 289.5 L932.5 253.5 M947.5 238.5 L983.5 202.5 M998.5 187.5 L1034.5 151.5 M732.5 482.5 L768.5 446.5 M783.5 431.5 L819.5 395.5 M834.5 380.5 L870.5 344.5 M885.5 329.5 L921.5 293.5 M936.5 278.5 L972.5 242.5 M987.5 227.5 L1023.5 191.5 M721.5 522.5 L757.5 486.5 M772.5 471.5 L808.5 435.5 M823.5 420.5 L859.5 384.5 M874.5 369.5 L910.5 333.5 M925.5 318.5 L961.5 282.5 M976.5 267.5 L1012.5 231.5 M710.5 562.5 L746.5 526.5 M761.5 511.5 L797.5 475.5 M812.5 460.5 L848.5 424.5 M863.5 409.5 L899.5 373.5 M914.5 358.5 L950.5 322.5 M965.5 307.5 L1001.5 271.5 M699.5 602.5 L735.5 566.5 M750.5 551.5 L786.5 515.5 M801.5 500.5 L837.5 464.5 M852.5 449.5 L888.5 413.5 M903.5 398.5 L939.5 362.5 M954.5 347.5 L990.5 311.5 M688.5 642.5 L724.5 606.5 M739.5 591.5 L775.5 555.5 M790.5 540.5 L826.5 504.5 M841.5 489.5 L877.5 453.5 M892.5 438.5 L928.5 402.5 M943.5 387.5 L979.5 351.5 M994.5 336.5 L1030.5 300.5 M728.5 631.5 L764.5 595.5 M779.5 580.5 L815.5 544.5 M830.5 529.5 L866.5 493.5 M881.5 478.5 L917.5 442.5 M932.5 427.5 L968.5 391.5 M983.5 376.5 L1019.5 340.5 M717.5 671.5 L753.5 635.5 M768.5 620.5 L804.5 584.5 M819.5 569.5 L855.5 533.5 M870.5 518.5 L906.5 482.5 M921.5 467.5 L957.5 431.5 M972.5 416.5 L1008.5 380.5 M706.5 711.5 L742.5 675.5 M757.5 660.5 L793.5 624.5 M808.5 609.5 L844.5 573.5 M859.5 558.5 L895.5 522.5 M910.5 507.5 L946.5 471.5 M961.5 456.5 L997.5 420.5 M695.5 751.5 L731.5 715.5 M746.5 700.5 L782.5 664.5 M797.5 649.5 L833.5 613.5 M848.5 598.5 L884.5 562.5 M899.5 547.5 L935.5 511.5 M950.5 496.5 L986.5 460.5 M684.5 791.5 L720.5 755.5 M735.5 740.5 L771.5 704.5 M786.5 689.5 L822.5 653.5 M837.5 638.5 L873.5 602.5 M888.5 587.5 L924.5 551.5 M939.5 536.5 L975.5 500.5 M990.5 485.5 L1026.5 449.5 M724.5 780.5 L760.5 744.5 M775.5 729.5 L811.5 693.5 M826.5 678.5 L862.5 642.5 M877.5 627.5 L913.5 591.5 M928.5 576.5 L964.5 540.5 M979.5 525.5 L1015.5 489.5 M713.5 820.5 L749.5 784.5 M764.5 769.5 L800.5 733.5 M815.5 718.5 L851.5 682.5 M866.5 667.5 L902.5 631.5 M917.5 616.5 L953.5 580.5 M968.5 565.5 L1004.5 529.5 M702.5 860.5 L738.5 824.5 M753.5 809.5 L789.5 773.5 M804.5 758.5 L840.5 722.5 M855.5 707.5 L891.5 671.5 M906.5 656.5 L942.5 620.5 M957.5 605.5 L993.5 569.5 M691.5 900.5 L727.5 864.5 M742.5 849.5 L778.5 813.5 M793.5 798.5 L829.5 762.5 M844.5 747.5 L880.5 711.5 M895.5 696.5 L931.5 660.5 M946.5 645.5 L982.5 609.5 M997.5 594.5 L1033.5 558.5 M731.5 889.5 L767.5 853.5 M782.5 838.5 L818.5 802.5 M833.5 787.5 L869.5 751.5 M884.5 736.5 L920.5 700.5 M935.5 685.5 L971.5 649.5 M986.5 634.5 L1022.5 598.5 M720.5 929.5 L756.5 893.5 M771.5 878.5 L807.5 842.5 M822.5 827.5 L858.5 791.5 M873.5 776.5 L909.5 740.5 M924.5 725.5 L960.5 689.5 M975.5 674.5 L1011.5 638.5 M709.5 969.5 L745.5 933.5 M760.5 918.5 L796.5 882.5 M811.5 867.5 L847.5 831.5 M862.5 816.5 L898.5 780.5 M913.5 765.5 L949.5 729.5 M964.5 714.5 L1000.5 678.5 M698.5 1009.5 L734.5 973.5 M749.5 958.5 L785.5 922.5 M800.5 907.5 L836.5 871.5 M851.5 856.5 L887.5 820.5 M902.5 805.5 L938.5 769.5 M953.5 754.5 L989.5 718.5 M687.5 1049.5 L723.5 1013.5 M738.5 998.5 L774.5 962.5 M789.5 947.5 L825.5 911.5 M840.5 896.5 L876.5 860.5 M891.5 845.5 L927.5 809.5 M942.5 794.5 L978.5 758.5 M993.5 743.5 L1029.5 707.5"/>
</g>
<path class="l" d="M902.50 489.50 L990.00 489.50"/>
<path class="ah" d="M994.00 489.50 L984.00 491.70 L984.00 487.30 Z"/>
<path class="lt" d="M825.5 726.0 L838.0 726.0 M825.5 729.6 L838.0 729.6 M825.5 733.2 L838.0 733.2 M825.5 736.8 L838.0 736.8 M825.5 740.4 L838.0 740.4 M825.5 744.0 L838.0 744.0 M825.5 747.6 L838.0 747.6 M825.5 751.2 L838.0 751.2 M825.5 754.8 L838.0 754.8 M825.5 758.4 L838.0 758.4 M825.5 762.0 L838.0 762.0 M825.5 765.6 L838.0 765.6 M825.5 769.2 L838.0 769.2 M825.5 772.8 L838.0 772.8 M825.5 776.4 L838.0 776.4 M825.5 780.0 L838.0 780.0 M825.5 783.6 L838.0 783.6 M825.5 787.2 L838.0 787.2"/>
<path class="lt" d="M825.50 726.00 L825.50 790.00"/>
<path class="lt" d="M838.00 726.00 L838.00 790.00"/>
<path class="lt" d="M887.5 726.0 L900.0 726.0 M887.5 729.6 L900.0 729.6 M887.5 733.2 L900.0 733.2 M887.5 736.8 L900.0 736.8 M887.5 740.4 L900.0 740.4 M887.5 744.0 L900.0 744.0 M887.5 747.6 L900.0 747.6 M887.5 751.2 L900.0 751.2 M887.5 754.8 L900.0 754.8 M887.5 758.4 L900.0 758.4 M887.5 762.0 L900.0 762.0 M887.5 765.6 L900.0 765.6 M887.5 769.2 L900.0 769.2 M887.5 772.8 L900.0 772.8 M887.5 776.4 L900.0 776.4 M887.5 780.0 L900.0 780.0 M887.5 783.6 L900.0 783.6 M887.5 787.2 L900.0 787.2"/>
<path class="lt" d="M887.50 726.00 L887.50 790.00"/>
<path class="lt" d="M900.00 726.00 L900.00 790.00"/>
<path class="lt" d="M838.00 760.00 L840.00 782.00 L843.00 797.00"/>
<path class="lt" d="M887.50 760.00 L885.00 782.00 L881.00 797.00"/>
<rect class="lt" x="841.00" y="800.00" width="3.50" height="77.00"/>
<rect class="lt" x="879.50" y="800.00" width="3.50" height="77.00"/>
<path class="lt" d="M860.50 802.00 L860.50 860.00 L867.00 860.00"/>
<path class="lt" d="M863.50 802.00 L863.50 857.00 L867.00 857.00"/>
<path class="wd" d="M836.7 803.5 Q842.7 796 848.7 803.5 Z"/>
<path class="wd" d="M856.0 803.5 Q862.0 796 868.0 803.5 Z"/>
<path class="wd" d="M875.2 803.5 Q881.2 796 887.2 803.5 Z"/>
<path class="l" d="M823.25 803.75 L902.50 803.75"/>
<path class="l" d="M823.25 811.25 L902.50 811.25"/>
<path class="l" d="M823.25 818.75 L902.50 818.75"/>
<circle class="wd" cx="828" cy="807.5" r="0.8"/>
<circle class="wd" cx="831" cy="815" r="0.8"/>
<circle class="wd" cx="838" cy="807.5" r="0.8"/>
<circle class="wd" cx="841" cy="815" r="0.8"/>
<circle class="wd" cx="848" cy="807.5" r="0.8"/>
<circle class="wd" cx="851" cy="815" r="0.8"/>
<circle class="wd" cx="858" cy="807.5" r="0.8"/>
<circle class="wd" cx="861" cy="815" r="0.8"/>
<circle class="wd" cx="868" cy="807.5" r="0.8"/>
<circle class="wd" cx="871" cy="815" r="0.8"/>
<circle class="wd" cx="878" cy="807.5" r="0.8"/>
<circle class="wd" cx="881" cy="815" r="0.8"/>
<circle class="wd" cx="888" cy="807.5" r="0.8"/>
<circle class="wd" cx="891" cy="815" r="0.8"/>
<circle class="wd" cx="898" cy="807.5" r="0.8"/>
<circle class="wd" cx="901" cy="815" r="0.8"/>
<path class="lt" d="M838.00 818.00 L862.00 798.00"/>
<path class="lt" d="M868.00 818.00 L895.00 795.00"/>
<path class="l" d="M902.50 818.75 L902.50 847.50"/>
<path class="l" d="M902.50 847.50 L1010.00 847.50"/>
<path class="l" d="M1010.00 847.50 L1010.00 875.00 L1004.00 881.25 L1014.00 891.25 L1010.00 895.00 L1010.00 917.00"/>
<path class="l" d="M823.25 917.00 L1010.00 917.00"/>
<circle class="wd" cx="858.1" cy="902.2" r="0.85"/>
<path class="lt" d="M841.6 843.7 L843.1 846.3 L840.2 846.3 Z"/>
<circle class="wd" cx="869.4" cy="845.9" r="0.85"/>
<circle class="wd" cx="835.7" cy="905.7" r="0.85"/>
<circle class="wd" cx="859.9" cy="875.7" r="0.85"/>
<circle class="wd" cx="857.1" cy="906.4" r="0.85"/>
<path class="lt" d="M865.4 868.6 L866.9 871.4 L863.8 871.4 Z"/>
<circle class="wd" cx="839.5" cy="822.4" r="0.85"/>
<circle class="wd" cx="838.8" cy="865.6" r="0.85"/>
<circle class="wd" cx="867.2" cy="852.0" r="0.85"/>
<path class="lt" d="M867.1 892.5 L868.7 895.5 L865.5 895.5 Z"/>
<circle class="wd" cx="844.4" cy="847.5" r="0.85"/>
<circle class="wd" cx="863.6" cy="873.7" r="0.85"/>
<circle class="wd" cx="893.5" cy="862.8" r="0.85"/>
<circle class="wd" cx="863.4" cy="869.1" r="0.85"/>
<circle class="wd" cx="859.5" cy="871.1" r="0.85"/>
<circle class="wd" cx="895.7" cy="886.3" r="0.85"/>
<circle class="wd" cx="895.7" cy="845.9" r="0.85"/>
<path class="lt" d="M895.8 897.9 L897.2 900.4 L894.4 900.4 Z"/>
<path class="lt" d="M858.7 827.3 L860.1 829.7 L857.4 829.7 Z"/>
<circle class="wd" cx="875.5" cy="894.1" r="0.85"/>
<circle class="wd" cx="837.4" cy="887.9" r="0.85"/>
<circle class="wd" cx="836.6" cy="903.2" r="0.85"/>
<circle class="wd" cx="842.2" cy="909.6" r="0.85"/>
<circle class="wd" cx="862.1" cy="913.1" r="0.85"/>
<circle class="wd" cx="837.9" cy="861.7" r="0.85"/>
<path class="lt" d="M939.6 862.4 L941.3 865.5 L937.9 865.5 Z"/>
<circle class="wd" cx="907.0" cy="886.4" r="0.85"/>
<circle class="wd" cx="906.8" cy="872.6" r="0.85"/>
<circle class="wd" cx="957.3" cy="856.0" r="0.85"/>
<path class="lt" d="M985.4 910.8 L986.9 913.4 L984.0 913.4 Z"/>
<path class="lt" d="M909.0 898.9 L910.4 901.4 L907.7 901.4 Z"/>
<circle class="wd" cx="948.1" cy="908.5" r="0.85"/>
<circle class="wd" cx="931.4" cy="861.3" r="0.85"/>
<path class="lt" d="M963.2 894.1 L964.5 896.5 L961.9 896.5 Z"/>
<path class="lt" d="M975.2 876.5 L977.1 879.9 L973.3 879.9 Z"/>
<path class="lt" d="M969.7 899.9 L971.5 903.2 L967.9 903.2 Z"/>
<circle class="wd" cx="911.8" cy="905.5" r="0.85"/>
<circle class="wd" cx="939.6" cy="886.3" r="0.85"/>
<circle class="wd" cx="932.3" cy="860.0" r="0.85"/>
<path class="lt" d="M929.3 857.5 L930.7 859.9 L928.0 859.9 Z"/>
<path class="lt" d="M925.6 869.6 L927.3 872.7 L923.8 872.7 Z"/>
<path class="lt" d="M934.6 881.5 L936.1 884.2 L933.1 884.2 Z"/>
<path class="lt" d="M906.9 865.8 L908.6 868.9 L905.1 868.9 Z"/>
<circle class="wd" cx="961.2" cy="863.7" r="0.85"/>
<circle class="wd" cx="1000.3" cy="858.6" r="0.85"/>
<circle class="wd" cx="949.1" cy="882.7" r="0.85"/>
<circle class="wd" cx="945.1" cy="883.4" r="0.85"/>
<circle class="wd" cx="1005.2" cy="873.2" r="0.85"/>
<circle class="wd" cx="977.1" cy="891.4" r="0.85"/>
<path class="lt" d="M940.5 854.0 L941.8 856.4 L939.1 856.4 Z"/>
<path class="lt" d="M980.6 866.5 L981.9 868.9 L979.2 868.9 Z"/>
<circle class="wd" cx="990.8" cy="906.0" r="0.85"/>
<path class="lt" d="M933.8 865.4 L935.3 868.3 L932.2 868.3 Z"/>
<path class="lt" d="M921.1 877.8 L922.9 881.1 L919.2 881.1 Z"/>
<path class="lt" d="M1004.2 884.0 L1006.1 887.4 L1002.3 887.4 Z"/>
<path class="lt" d="M936.6 872.6 L938.1 875.3 L935.0 875.3 Z"/>
<path class="lt" d="M953.4 881.6 L955.0 884.5 L951.8 884.5 Z"/>
<path class="lt" d="M905.5 866.8 L907.0 869.6 L904.0 869.6 Z"/>
<path class="lt" d="M909.3 852.0 L910.7 854.5 L907.8 854.5 Z"/>
<circle class="wd" cx="964.7" cy="884.8" r="0.85"/>
<circle class="wd" cx="972.1" cy="896.4" r="0.85"/>
<circle class="wd" cx="944.7" cy="872.2" r="0.85"/>
<circle class="wd" cx="920.2" cy="896.9" r="0.85"/>
<circle class="wd" cx="909.5" cy="903.8" r="0.85"/>
<circle class="wd" cx="969.0" cy="897.5" r="0.85"/>
<g class="lt">
<path d="M763.5 851.5 L773.5 851.5"/>
<path d="M763.5 853.7 L773.5 853.7"/>
<path d="M763.5 855.8 L773.5 855.8"/>
<path d="M763.5 858.0 L773.5 858.0"/>
<path d="M776.0 851.0 L776.0 858.5"/>
<path d="M779.0 851.0 L779.0 858.5"/>
<path d="M782.0 851.0 L782.0 858.5"/>
<path d="M785.0 851.0 L785.0 858.5"/>
<path d="M787.5 851.5 L797.5 851.5"/>
<path d="M787.5 853.7 L797.5 853.7"/>
<path d="M787.5 855.8 L797.5 855.8"/>
<path d="M787.5 858.0 L797.5 858.0"/>
<path d="M800.0 851.0 L800.0 858.5"/>
<path d="M803.0 851.0 L803.0 858.5"/>
<path d="M806.0 851.0 L806.0 858.5"/>
<path d="M809.0 851.0 L809.0 858.5"/>
<path d="M811.5 851.5 L821.5 851.5"/>
<path d="M811.5 853.7 L821.5 853.7"/>
<path d="M811.5 855.8 L821.5 855.8"/>
<path d="M811.5 858.0 L821.5 858.0"/>
<path d="M764.0 860.5 L764.0 868.0"/>
<path d="M767.0 860.5 L767.0 868.0"/>
<path d="M770.0 860.5 L770.0 868.0"/>
<path d="M773.0 860.5 L773.0 868.0"/>
<path d="M775.5 861.0 L785.5 861.0"/>
<path d="M775.5 863.2 L785.5 863.2"/>
<path d="M775.5 865.3 L785.5 865.3"/>
<path d="M775.5 867.5 L785.5 867.5"/>
<path d="M788.0 860.5 L788.0 868.0"/>
<path d="M791.0 860.5 L791.0 868.0"/>
<path d="M794.0 860.5 L794.0 868.0"/>
<path d="M797.0 860.5 L797.0 868.0"/>
<path d="M799.5 861.0 L809.5 861.0"/>
<path d="M799.5 863.2 L809.5 863.2"/>
<path d="M799.5 865.3 L809.5 865.3"/>
<path d="M799.5 867.5 L809.5 867.5"/>
<path d="M812.0 860.5 L812.0 868.0"/>
<path d="M815.0 860.5 L815.0 868.0"/>
<path d="M818.0 860.5 L818.0 868.0"/>
<path d="M821.0 860.5 L821.0 868.0"/>
<path d="M763.5 870.5 L773.5 870.5"/>
<path d="M763.5 872.7 L773.5 872.7"/>
<path d="M763.5 874.8 L773.5 874.8"/>
<path d="M763.5 877.0 L773.5 877.0"/>
<path d="M776.0 870.0 L776.0 876.5"/>
<path d="M779.0 870.0 L779.0 876.5"/>
<path d="M782.0 870.0 L782.0 876.5"/>
<path d="M785.0 870.0 L785.0 876.5"/>
<path d="M787.5 870.5 L797.5 870.5"/>
<path d="M787.5 872.7 L797.5 872.7"/>
<path d="M787.5 874.8 L797.5 874.8"/>
<path d="M787.5 877.0 L797.5 877.0"/>
<path d="M800.0 870.0 L800.0 876.5"/>
<path d="M803.0 870.0 L803.0 876.5"/>
<path d="M806.0 870.0 L806.0 876.5"/>
<path d="M809.0 870.0 L809.0 876.5"/>
<path d="M811.5 870.5 L821.5 870.5"/>
<path d="M811.5 872.7 L821.5 872.7"/>
<path d="M811.5 874.8 L821.5 874.8"/>
<path d="M811.5 877.0 L821.5 877.0"/>
</g>
<path class="lt" d="M762.50 850.00 L790.00 848.00 L823.25 846.00"/>
<rect class="l" x="837.00" y="936.25" width="145.00" height="28.00"/>
<path class="l" d="M916.00 732.50 L880.00 732.50 L860.00 701.00"/>
<path class="ah" d="M860.00 701.00 L866.68 707.42 L862.97 709.78 Z"/>
<path class="l" d="M938.75 774.00 L913.75 774.00 L872.50 802.50"/>
<path class="ah" d="M872.50 802.50 L878.65 795.57 L881.16 799.19 Z"/>
<path class="l" d="M937.50 837.50 L900.00 837.50 L877.50 819.50"/>
<path class="ah" d="M877.50 819.50 L885.90 823.40 L883.15 826.84 Z"/>
<path class="l" d="M790.00 570.75 L811.25 570.75 L866.25 430.00"/>
<path class="ah" d="M866.25 430.00 L865.02 439.18 L860.93 437.58 Z"/>
<path class="l" d="M775.00 656.75 L847.50 656.75 L861.25 633.75"/>
<path class="ah" d="M861.25 633.75 L858.52 642.60 L854.74 640.35 Z"/>
<rect class="l" x="1046.50" y="579.00" width="163.20" height="79.50"/>
<path class="l" d="M1228.90 654.40 L1228.90 823.00"/>
<path class="lt" d="M1231.70 654.40 L1231.70 823.00"/>
<path class="lt" d="M1229.20 658.00 L1231.40 660.00"/>
<path class="lt" d="M1229.20 662.00 L1231.40 664.00"/>
<path class="lt" d="M1229.20 666.00 L1231.40 668.00"/>
<path class="lt" d="M1229.20 670.00 L1231.40 672.00"/>
<path class="lt" d="M1229.20 674.00 L1231.40 676.00"/>
<path class="lt" d="M1229.20 678.00 L1231.40 680.00"/>
<path class="lt" d="M1229.20 682.00 L1231.40 684.00"/>
<path class="lt" d="M1229.20 686.00 L1231.40 688.00"/>
<path class="lt" d="M1229.20 690.00 L1231.40 692.00"/>
<path class="lt" d="M1229.20 694.00 L1231.40 696.00"/>
<path class="lt" d="M1229.20 698.00 L1231.40 700.00"/>
<path class="lt" d="M1229.20 702.00 L1231.40 704.00"/>
<path class="lt" d="M1229.20 706.00 L1231.40 708.00"/>
<path class="lt" d="M1229.20 710.00 L1231.40 712.00"/>
<path class="lt" d="M1229.20 714.00 L1231.40 716.00"/>
<path class="lt" d="M1229.20 718.00 L1231.40 720.00"/>
<path class="lt" d="M1229.20 722.00 L1231.40 724.00"/>
<path class="lt" d="M1229.20 726.00 L1231.40 728.00"/>
<path class="lt" d="M1229.20 730.00 L1231.40 732.00"/>
<path class="lt" d="M1229.20 734.00 L1231.40 736.00"/>
<path class="lt" d="M1229.20 738.00 L1231.40 740.00"/>
<path class="lt" d="M1229.20 742.00 L1231.40 744.00"/>
<path class="lt" d="M1229.20 746.00 L1231.40 748.00"/>
<path class="lt" d="M1229.20 750.00 L1231.40 752.00"/>
<path class="lt" d="M1229.20 754.00 L1231.40 756.00"/>
<path class="lt" d="M1229.20 758.00 L1231.40 760.00"/>
<path class="lt" d="M1229.20 762.00 L1231.40 764.00"/>
<path class="lt" d="M1229.20 766.00 L1231.40 768.00"/>
<path class="lt" d="M1229.20 770.00 L1231.40 772.00"/>
<path class="lt" d="M1229.20 774.00 L1231.40 776.00"/>
<path class="lt" d="M1229.20 778.00 L1231.40 780.00"/>
<path class="lt" d="M1229.20 782.00 L1231.40 784.00"/>
<path class="lt" d="M1229.20 786.00 L1231.40 788.00"/>
<path class="lt" d="M1229.20 790.00 L1231.40 792.00"/>
<path class="lt" d="M1229.20 794.00 L1231.40 796.00"/>
<path class="lt" d="M1229.20 798.00 L1231.40 800.00"/>
<path class="lt" d="M1229.20 802.00 L1231.40 804.00"/>
<path class="lt" d="M1229.20 806.00 L1231.40 808.00"/>
<path class="lt" d="M1229.20 810.00 L1231.40 812.00"/>
<path class="lt" d="M1229.20 814.00 L1231.40 816.00"/>
<path class="lt" d="M1229.20 818.00 L1231.40 820.00"/>
<path class="l" d="M1258.50 654.40 L1258.50 823.00"/>
<rect class="l" x="1243.5" y="732.3" width="12.5" height="74" rx="4"/>
<circle class="wd" cx="1246.5" cy="738" r="0.9"/>
<circle class="wd" cx="1252.5" cy="744" r="0.9"/>
<circle class="wd" cx="1246.5" cy="750" r="0.9"/>
<circle class="wd" cx="1252.5" cy="756" r="0.9"/>
<circle class="wd" cx="1246.5" cy="762" r="0.9"/>
<circle class="wd" cx="1252.5" cy="768" r="0.9"/>
<circle class="wd" cx="1246.5" cy="774" r="0.9"/>
<circle class="wd" cx="1252.5" cy="780" r="0.9"/>
<circle class="wd" cx="1246.5" cy="786" r="0.9"/>
<circle class="wd" cx="1252.5" cy="792" r="0.9"/>
<circle class="wd" cx="1246.5" cy="798" r="0.9"/>
<path class="l" d="M1231.70 808.00 L1258.50 808.00"/>
<path class="l" d="M1231.70 815.20 L1258.50 815.20"/>
<path class="l" d="M1231.70 822.50 L1258.50 822.50"/>
<path class="lt" d="M1233.00 809.00 L1257.00 814.00 L1233.00 814.00 L1257.00 809.00"/>
<path class="lt" d="M1233.00 816.50 L1257.00 821.50 L1233.00 821.50 L1257.00 816.50"/>
<path class="l" d="M1228.90 823.00 L1268.30 823.00"/>
<path class="l" d="M1228.90 823.00 L1228.90 922.90"/>
<path class="l" d="M1268.30 823.00 L1268.30 843.20"/>
<path class="l" d="M1268.30 843.20 L1411.80 843.20"/>
<path class="l" d="M1411.80 863.40 L1342.40 863.40 L1284.20 922.90 L1204.50 922.90 L1204.50 873.20 L1228.90 873.20"/>
<path class="l" d="M1204.50 907.90 L1228.90 907.90"/>
<rect class="lt" x="1206.4" y="778.0" width="18.6" height="10" rx="2"/>
<rect class="lt" x="1206.4" y="789.5" width="18.6" height="10" rx="2"/>
<rect class="lt" x="1206.4" y="801.0" width="18.6" height="10" rx="2"/>
<rect class="lt" x="1206.4" y="812.5" width="18.6" height="10" rx="2"/>
<rect class="lt" x="1206.4" y="824.0" width="18.6" height="10" rx="2"/>
<rect class="lt" x="1206.4" y="835.5" width="18.6" height="10" rx="2"/>
<rect class="lt" x="1206.4" y="847.0" width="18.6" height="10" rx="2"/>
<rect class="lt" x="1206.4" y="858.5" width="18.6" height="10" rx="2"/>
<rect class="lt" x="1206.4" y="870.0" width="18.6" height="10" rx="2"/>
<path class="lt" d="M1203.00 768.00 L1222.00 765.00 L1225.00 777.00 L1206.00 779.00 Z"/>
<rect class="lt" x="1247.60" y="823.00" width="3.80" height="56.00"/>
<path class="lt" d="M1246.60 848.00 L1252.40 849.50"/>
<path class="lt" d="M1246.60 851.00 L1252.40 852.50"/>
<path class="lt" d="M1246.60 854.00 L1252.40 855.50"/>
<path class="lt" d="M1246.60 857.00 L1252.40 858.50"/>
<path class="lt" d="M1246.60 860.00 L1252.40 861.50"/>
<path class="lt" d="M1246.60 863.00 L1252.40 864.50"/>
<path class="lt" d="M1246.60 866.00 L1252.40 867.50"/>
<path class="lt" d="M1246.60 869.00 L1252.40 870.50"/>
<path class="lt" d="M1246.60 872.00 L1252.40 873.50"/>
<path class="lt" d="M1246.60 875.00 L1252.40 876.50"/>
<circle class="wd" cx="1254.8" cy="847.8" r="2"/>
<circle class="wd" cx="1235.9" cy="875.2" r="0.85"/>
<circle class="wd" cx="1260.2" cy="901.6" r="0.85"/>
<circle class="wd" cx="1251.4" cy="909.9" r="0.85"/>
<path class="lt" d="M1255.3 846.2 L1256.6 848.7 L1253.9 848.7 Z"/>
<circle class="wd" cx="1243.6" cy="835.9" r="0.85"/>
<circle class="wd" cx="1250.5" cy="885.0" r="0.85"/>
<path class="lt" d="M1254.8 870.2 L1256.6 873.4 L1253.0 873.4 Z"/>
<circle class="wd" cx="1257.2" cy="873.3" r="0.85"/>
<circle class="wd" cx="1254.1" cy="832.2" r="0.85"/>
<path class="lt" d="M1239.8 831.3 L1241.6 834.4 L1238.1 834.4 Z"/>
<circle class="wd" cx="1238.2" cy="895.5" r="0.85"/>
<circle class="wd" cx="1248.3" cy="862.0" r="0.85"/>
<circle class="wd" cx="1254.9" cy="898.1" r="0.85"/>
<path class="lt" d="M1253.5 831.8 L1254.9 834.4 L1252.0 834.4 Z"/>
<circle class="wd" cx="1257.0" cy="854.6" r="0.85"/>
<path class="lt" d="M1231.4 830.0 L1233.1 833.1 L1229.7 833.1 Z"/>
<path class="lt" d="M1366.9 854.5 L1368.5 857.4 L1365.3 857.4 Z"/>
<path class="lt" d="M1335.1 851.2 L1336.9 854.5 L1333.2 854.5 Z"/>
<circle class="wd" cx="1297.9" cy="860.7" r="0.85"/>
<circle class="wd" cx="1272.5" cy="852.9" r="0.85"/>
<path class="lt" d="M1405.5 851.3 L1407.0 853.9 L1404.1 853.9 Z"/>
<circle class="wd" cx="1402.4" cy="849.2" r="0.85"/>
<circle class="wd" cx="1289.8" cy="853.9" r="0.85"/>
<circle class="wd" cx="1288.6" cy="858.3" r="0.85"/>
<path class="lt" d="M1394.2 854.7 L1396.0 858.0 L1392.3 858.0 Z"/>
<path class="lt" d="M1338.1 844.8 L1339.7 847.6 L1336.5 847.6 Z"/>
<path class="lt" d="M1333.1 849.0 L1334.6 851.7 L1331.6 851.7 Z"/>
<path class="lt" d="M1314.3 856.9 L1316.0 860.0 L1312.5 860.0 Z"/>
<circle class="wd" cx="1387.5" cy="847.8" r="0.85"/>
<path class="lt" d="M1369.8 858.0 L1371.3 860.7 L1368.3 860.7 Z"/>
<circle class="wd" cx="1325.0" cy="861.0" r="0.85"/>
<path class="lt" d="M1320.5 851.1 L1321.8 853.5 L1319.2 853.5 Z"/>
<path class="lt" d="M1284.2 856.7 L1286.1 860.0 L1282.4 860.0 Z"/>
<circle class="wd" cx="1304.9" cy="850.0" r="0.85"/>
<circle class="wd" cx="1296.6" cy="851.6" r="0.85"/>
<circle class="wd" cx="1393.8" cy="858.2" r="0.85"/>
<circle class="wd" cx="1397.9" cy="860.1" r="0.85"/>
<circle class="wd" cx="1370.7" cy="846.7" r="0.85"/>
<circle class="wd" cx="1333.1" cy="857.3" r="0.85"/>
<circle class="wd" cx="1310.1" cy="846.7" r="0.85"/>
<path class="lt" d="M1287.8 851.6 L1289.3 854.3 L1286.3 854.3 Z"/>
<path class="lt" d="M1286.7 899.1 L1288.4 902.0 L1285.1 902.0 Z"/>
<path class="lt" d="M1296.4 870.4 L1297.8 873.0 L1295.0 873.0 Z"/>
<circle class="wd" cx="1283.8" cy="915.5" r="0.85"/>
<path class="lt" d="M1300.4 868.9 L1301.8 871.3 L1299.0 871.3 Z"/>
<path class="lt" d="M1292.6 865.9 L1294.1 868.5 L1291.2 868.5 Z"/>
<circle class="wd" cx="1297.8" cy="892.9" r="0.85"/>
<path class="lt" d="M1292.4 863.8 L1294.2 867.2 L1290.5 867.2 Z"/>
<circle class="wd" cx="1277.1" cy="891.7" r="0.85"/>
<path class="lt" d="M1330.1 873.3 L1331.6 875.9 L1328.7 875.9 Z"/>
<circle class="wd" cx="1296.8" cy="888.3" r="0.85"/>
<circle class="wd" cx="1269.6" cy="863.9" r="0.85"/>
<circle class="wd" cx="1310.3" cy="862.0" r="0.85"/>
<path class="lt" d="M1285.9 866.8 L1287.5 869.7 L1284.3 869.7 Z"/>
<circle class="wd" cx="1307.7" cy="864.3" r="0.85"/>
<circle class="wd" cx="1284.7" cy="916.3" r="0.85"/>
<path class="lt" d="M1289.9 867.9 L1291.6 870.9 L1288.2 870.9 Z"/>
<path class="lt" d="M1318.3 867.0 L1319.9 869.9 L1316.7 869.9 Z"/>
<path class="lt" d="M1310.0 883.2 L1311.6 886.2 L1308.3 886.2 Z"/>
<circle class="wd" cx="1268.8" cy="879.8" r="0.85"/>
<circle class="wd" cx="1284.9" cy="876.6" r="0.85"/>
<path class="lt" d="M1318.7 878.5 L1320.3 881.4 L1317.1 881.4 Z"/>
<path class="lt" d="M1316.6 885.1 L1318.3 888.1 L1314.9 888.1 Z"/>
<path class="lt" d="M1225.5 881.1 L1227.0 883.8 L1224.0 883.8 Z"/>
<path class="lt" d="M1215.4 894.0 L1217.2 897.2 L1213.6 897.2 Z"/>
<path class="lt" d="M1221.8 888.8 L1223.7 892.1 L1219.9 892.1 Z"/>
<path class="lt" d="M1213.2 898.3 L1214.7 900.9 L1211.8 900.9 Z"/>
<circle class="wd" cx="1222.2" cy="884.6" r="0.85"/>
<g class="lt">
<path d="M1111.7 867.5 L1121.7 867.5"/>
<path d="M1111.7 869.7 L1121.7 869.7"/>
<path d="M1111.7 871.8 L1121.7 871.8"/>
<path d="M1111.7 874.0 L1121.7 874.0"/>
<path d="M1124.2 867.0 L1124.2 874.5"/>
<path d="M1127.2 867.0 L1127.2 874.5"/>
<path d="M1130.2 867.0 L1130.2 874.5"/>
<path d="M1133.2 867.0 L1133.2 874.5"/>
<path d="M1135.7 867.5 L1145.7 867.5"/>
<path d="M1135.7 869.7 L1145.7 869.7"/>
<path d="M1135.7 871.8 L1145.7 871.8"/>
<path d="M1135.7 874.0 L1145.7 874.0"/>
<path d="M1148.2 867.0 L1148.2 874.5"/>
<path d="M1151.2 867.0 L1151.2 874.5"/>
<path d="M1154.2 867.0 L1154.2 874.5"/>
<path d="M1157.2 867.0 L1157.2 874.5"/>
<path d="M1159.7 867.5 L1169.7 867.5"/>
<path d="M1159.7 869.7 L1169.7 869.7"/>
<path d="M1159.7 871.8 L1169.7 871.8"/>
<path d="M1159.7 874.0 L1169.7 874.0"/>
<path d="M1172.2 867.0 L1172.2 874.5"/>
<path d="M1175.2 867.0 L1175.2 874.5"/>
<path d="M1178.2 867.0 L1178.2 874.5"/>
<path d="M1181.2 867.0 L1181.2 874.5"/>
<path d="M1183.7 867.5 L1193.7 867.5"/>
<path d="M1183.7 869.7 L1193.7 869.7"/>
<path d="M1183.7 871.8 L1193.7 871.8"/>
<path d="M1183.7 874.0 L1193.7 874.0"/>
<path d="M1196.2 867.0 L1196.2 874.5"/>
<path d="M1199.2 867.0 L1199.2 874.5"/>
<path d="M1202.2 867.0 L1202.2 874.5"/>
<path d="M1112.2 876.5 L1112.2 884.0"/>
<path d="M1115.2 876.5 L1115.2 884.0"/>
<path d="M1118.2 876.5 L1118.2 884.0"/>
<path d="M1121.2 876.5 L1121.2 884.0"/>
<path d="M1123.7 877.0 L1133.7 877.0"/>
<path d="M1123.7 879.2 L1133.7 879.2"/>
<path d="M1123.7 881.3 L1133.7 881.3"/>
<path d="M1123.7 883.5 L1133.7 883.5"/>
<path d="M1136.2 876.5 L1136.2 884.0"/>
<path d="M1139.2 876.5 L1139.2 884.0"/>
<path d="M1142.2 876.5 L1142.2 884.0"/>
<path d="M1145.2 876.5 L1145.2 884.0"/>
<path d="M1147.7 877.0 L1157.7 877.0"/>
<path d="M1147.7 879.2 L1157.7 879.2"/>
<path d="M1147.7 881.3 L1157.7 881.3"/>
<path d="M1147.7 883.5 L1157.7 883.5"/>
<path d="M1160.2 876.5 L1160.2 884.0"/>
<path d="M1163.2 876.5 L1163.2 884.0"/>
<path d="M1166.2 876.5 L1166.2 884.0"/>
<path d="M1169.2 876.5 L1169.2 884.0"/>
<path d="M1171.7 877.0 L1181.7 877.0"/>
<path d="M1171.7 879.2 L1181.7 879.2"/>
<path d="M1171.7 881.3 L1181.7 881.3"/>
<path d="M1171.7 883.5 L1181.7 883.5"/>
<path d="M1184.2 876.5 L1184.2 884.0"/>
<path d="M1187.2 876.5 L1187.2 884.0"/>
<path d="M1190.2 876.5 L1190.2 884.0"/>
<path d="M1193.2 876.5 L1193.2 884.0"/>
<path d="M1195.7 877.0 L1203.5 877.0"/>
<path d="M1195.7 879.2 L1203.5 879.2"/>
<path d="M1195.7 881.3 L1203.5 881.3"/>
<path d="M1195.7 883.5 L1203.5 883.5"/>
<path d="M1111.7 886.5 L1121.7 886.5"/>
<path d="M1111.7 888.7 L1121.7 888.7"/>
<path d="M1111.7 890.8 L1121.7 890.8"/>
<path d="M1111.7 893.0 L1121.7 893.0"/>
<path d="M1124.2 886.0 L1124.2 892.8"/>
<path d="M1127.2 886.0 L1127.2 892.8"/>
<path d="M1130.2 886.0 L1130.2 892.8"/>
<path d="M1133.2 886.0 L1133.2 892.8"/>
<path d="M1135.7 886.5 L1145.7 886.5"/>
<path d="M1135.7 888.7 L1145.7 888.7"/>
<path d="M1135.7 890.8 L1145.7 890.8"/>
<path d="M1135.7 893.0 L1145.7 893.0"/>
<path d="M1148.2 886.0 L1148.2 892.8"/>
<path d="M1151.2 886.0 L1151.2 892.8"/>
<path d="M1154.2 886.0 L1154.2 892.8"/>
<path d="M1157.2 886.0 L1157.2 892.8"/>
<path d="M1159.7 886.5 L1169.7 886.5"/>
<path d="M1159.7 888.7 L1169.7 888.7"/>
<path d="M1159.7 890.8 L1169.7 890.8"/>
<path d="M1159.7 893.0 L1169.7 893.0"/>
<path d="M1172.2 886.0 L1172.2 892.8"/>
<path d="M1175.2 886.0 L1175.2 892.8"/>
<path d="M1178.2 886.0 L1178.2 892.8"/>
<path d="M1181.2 886.0 L1181.2 892.8"/>
<path d="M1183.7 886.5 L1193.7 886.5"/>
<path d="M1183.7 888.7 L1193.7 888.7"/>
<path d="M1183.7 890.8 L1193.7 890.8"/>
<path d="M1183.7 893.0 L1193.7 893.0"/>
<path d="M1196.2 886.0 L1196.2 892.8"/>
<path d="M1199.2 886.0 L1199.2 892.8"/>
<path d="M1202.2 886.0 L1202.2 892.8"/>
</g>
<path class="lt" d="M1110.70 866.00 L1140.00 862.00 L1170.00 862.00 L1204.50 860.00"/>
<path class="lt" d="M1153.80 823.50 L1153.80 922.90"/>
<path class="lt" d="M1175.40 823.50 L1175.40 922.90"/>
<path class="lt" d="M1153.80 823.50 L1183.00 823.50"/>
<path class="l" d="M1147.80 817.50 L1159.80 829.50"/>
<path class="l" d="M1169.40 817.50 L1181.40 829.50"/>
<path class="l" d="M1169.40 857.80 L1181.40 869.80"/>
<path class="l" d="M1147.80 916.90 L1159.80 928.90"/>
<path class="l" d="M1169.40 916.90 L1181.40 928.90"/>
<text transform="translate(1172.0,849.0) rotate(-90)" font-size="11" textLength="9.0" lengthAdjust="spacingAndGlyphs">8"</text>
<text transform="translate(1172.0,900.0) rotate(-90)" font-size="11" textLength="12.5" lengthAdjust="spacingAndGlyphs">12"</text>
<path class="lt" d="M1228.90 949.00 L1228.90 966.00"/>
<path class="lt" d="M1283.30 952.00 L1283.30 966.00"/>
<path class="l" d="M1222.90 952.00 L1234.90 964.00"/>
<path class="l" d="M1277.30 952.00 L1289.30 964.00"/>
<rect class="l" x="1188.20" y="983.50" width="159.40" height="30.90"/>
<path class="l" d="M1148.00 684.80 L1190.40 684.80 L1243.00 765.00"/>
<path class="ah" d="M1243.00 765.00 L1236.22 758.68 L1239.90 756.27 Z"/>
<path class="l" d="M1298.00 706.60 L1285.00 706.60 L1258.00 722.00"/>
<path class="ah" d="M1258.00 722.00 L1264.73 715.63 L1266.91 719.45 Z"/>
<path class="l" d="M1299.20 741.10 L1292.70 741.10 L1259.80 803.60"/>
<path class="ah" d="M1259.80 803.60 L1262.05 794.61 L1265.94 796.66 Z"/>
<path class="l" d="M1300.20 765.10 L1288.00 765.10 L1259.30 814.80"/>
<path class="ah" d="M1259.30 814.80 L1261.90 805.91 L1265.71 808.11 Z"/>
<path class="l" d="M1300.20 785.80 L1288.90 785.80 L1269.20 832.70"/>
<path class="ah" d="M1269.20 832.70 L1270.66 823.55 L1274.71 825.25 Z"/>
<path class="l" d="M1305.80 813.90 L1300.20 813.90 L1255.10 847.70"/>
<path class="ah" d="M1255.10 847.70 L1260.98 840.54 L1263.62 844.06 Z"/>
<path class="l" d="M1113.50 772.30 L1151.00 772.30 L1211.00 828.00"/>
<path class="ah" d="M1211.00 828.00 L1202.91 823.49 L1205.90 820.26 Z"/>
<path class="l" d="M1319.00 889.70 L1290.80 889.70 L1253.30 872.20"/>
<path class="ah" d="M1253.30 872.20 L1262.39 874.01 L1260.53 878.00 Z"/>
<path class="l" d="M1139.80 959.50 L1198.90 959.50 L1215.70 908.80"/>
<path class="l" d="M1217.60 1079.30 L1221.10 1075.80 L1248.20 1074.20 L1251.70 1078.20 L1252.10 1196.90 L1255.20 1201.60 L1272.80 1295.60 L1270.50 1300.30 L1237.60 1315.60 L1232.90 1314.40 L1215.20 1295.60 L1214.50 1208.60 L1216.90 1202.70 Z"/>
<path class="lt" d="M1219.50 1080.00 L1222.00 1077.50 L1247.50 1076.00 L1250.00 1079.00 L1250.30 1197.00 L1253.00 1202.00 L1270.50 1295.00"/>
<path class="lt" d="M1216.50 1205.00 L1219.00 1208.00 L1221.00 1297.00 L1234.00 1312.00"/>
<path class="lt" d="M1252.50 1204.00 L1246.00 1282.00"/>
<path class="lt" d="M1228.00 1287.00 L1246.00 1281.00 L1270.00 1296.00 L1238.00 1311.00 L1228.00 1287.00"/>
<circle class="lt" cx="1241.2" cy="1294.4" r="5.5"/><circle class="lt" cx="1241.2" cy="1294.4" r="3.2"/>
<circle class="wd" cx="1223.2" cy="1086.5" r="1.9"/>
<circle class="wd" cx="1239.9" cy="1085.0" r="1.9"/>
<circle class="wd" cx="1230.2" cy="1097.5" r="1.9"/>
<circle class="wd" cx="1246.5" cy="1096.0" r="1.9"/>
<circle class="wd" cx="1223.2" cy="1110" r="1.9"/>
<circle class="wd" cx="1239.9" cy="1108.5" r="1.9"/>
<circle class="wd" cx="1230.2" cy="1121" r="1.9"/>
<circle class="wd" cx="1246.5" cy="1119.5" r="1.9"/>
<circle class="wd" cx="1223.2" cy="1133" r="1.9"/>
<circle class="wd" cx="1239.9" cy="1131.5" r="1.9"/>
<circle class="wd" cx="1230.2" cy="1144" r="1.9"/>
<circle class="wd" cx="1246.5" cy="1142.5" r="1.9"/>
<circle class="wd" cx="1223.2" cy="1156" r="1.9"/>
<circle class="wd" cx="1239.9" cy="1154.5" r="1.9"/>
<circle class="wd" cx="1230.2" cy="1168" r="1.9"/>
<circle class="wd" cx="1246.5" cy="1166.5" r="1.9"/>
<circle class="wd" cx="1223.2" cy="1179.5" r="1.9"/>
<circle class="wd" cx="1239.9" cy="1178.0" r="1.9"/>
<circle class="wd" cx="1230.2" cy="1191" r="1.9"/>
<circle class="wd" cx="1246.5" cy="1189.5" r="1.9"/>
<circle class="wd" cx="1223.2" cy="1204" r="1.9"/>
<circle class="wd" cx="1239.9" cy="1202.5" r="1.9"/>
<circle class="wd" cx="1230.2" cy="1215" r="1.9"/>
<circle class="wd" cx="1246.5" cy="1213.5" r="1.9"/>
<circle class="wd" cx="1236.8" cy="1228" r="1.9"/>
<circle class="wd" cx="1236.8" cy="1242" r="1.9"/>
<path class="l" d="M1377.40 1258.00 L1377.40 999.40 L1379.80 997.00 L1397.40 997.00 L1399.80 1000.60 L1399.80 1253.30 L1393.90 1269.70 L1378.60 1319.10 L1372.70 1321.40 L1366.90 1319.10 L1377.40 1258.00"/>
<path class="lt" d="M1379.20 1258.00 L1379.20 1000.00"/>
<path class="lt" d="M1368.00 1316.00 L1378.00 1260.00"/>
<path class="lt" d="M1362.00 1314.00 L1368.00 1311.00 L1372.00 1316.00"/>
<circle class="lt" cx="1373.5" cy="1316.5" r="3"/>
<circle class="lt" cx="1385.2" cy="1002" r="1.5"/>
<circle class="lt" cx="1395.8" cy="1002" r="1.5"/>
<circle class="lt" cx="1382.1" cy="1011" r="1.5"/>
<circle class="lt" cx="1392.3" cy="1011" r="1.5"/>
<circle class="lt" cx="1385.2" cy="1021" r="1.5"/>
<circle class="lt" cx="1395.8" cy="1021" r="1.5"/>
<circle class="lt" cx="1382.1" cy="1032" r="1.5"/>
<circle class="lt" cx="1392.3" cy="1032" r="1.5"/>
<circle class="lt" cx="1385.2" cy="1042" r="1.5"/>
<circle class="lt" cx="1395.8" cy="1042" r="1.5"/>
<circle class="lt" cx="1382.1" cy="1053" r="1.5"/>
<circle class="lt" cx="1392.3" cy="1053" r="1.5"/>
<circle class="lt" cx="1385.2" cy="1064" r="1.5"/>
<circle class="lt" cx="1395.8" cy="1064" r="1.5"/>
<circle class="lt" cx="1382.1" cy="1075" r="1.5"/>
<circle class="lt" cx="1392.3" cy="1075" r="1.5"/>
<circle class="lt" cx="1385.2" cy="1086" r="1.5"/>
<circle class="lt" cx="1395.8" cy="1086" r="1.5"/>
<circle class="lt" cx="1382.1" cy="1097" r="1.5"/>
<circle class="lt" cx="1392.3" cy="1097" r="1.5"/>
<circle class="lt" cx="1385.2" cy="1107" r="1.5"/>
<circle class="lt" cx="1395.8" cy="1107" r="1.5"/>
<circle class="lt" cx="1382.1" cy="1118" r="1.5"/>
<circle class="lt" cx="1392.3" cy="1118" r="1.5"/>
<circle class="lt" cx="1385.2" cy="1129" r="1.5"/>
<circle class="lt" cx="1395.8" cy="1129" r="1.5"/>
<circle class="lt" cx="1382.1" cy="1140" r="1.5"/>
<circle class="lt" cx="1392.3" cy="1140" r="1.5"/>
<circle class="lt" cx="1385.2" cy="1150" r="1.5"/>
<circle class="lt" cx="1395.8" cy="1150" r="1.5"/>
<circle class="lt" cx="1382.5" cy="1250.5" r="1.3"/><circle class="lt" cx="1395.5" cy="1247" r="1.3"/>
<path class="lt" d="M1382.00 1271.00 L1384.00 1268.00 L1385.00 1274.00 L1383.00 1277.00"/>
<path class="lt" d="M1377.00 1297.00 L1379.00 1293.00 L1380.00 1300.00 L1378.00 1303.00"/>
<rect class="l" x="1179.30" y="1342.60" width="123.40" height="23.50"/>
<rect class="l" x="1313.30" y="1342.60" width="123.60" height="23.50"/>
<path class="l" d="M1823.75 416.25 L2095.50 416.25"/>
<path class="l" d="M1823.75 425.50 L2095.50 425.50"/>
<path class="l" d="M1823.75 435.50 L2095.50 435.50"/>
<path class="l" d="M1823.75 478.75 L1953.75 478.75"/>
<path class="l" d="M1861.25 435.50 L1861.25 478.75"/>
<path class="l" d="M1871.25 435.50 L1871.25 478.75"/>
<path class="l" d="M1822.50 538.00 L1953.75 538.00"/>
<path class="l" d="M1944.50 538.00 L1944.50 1028.00"/>
<path class="l" d="M1954.50 640.00 L1954.50 1028.00"/>
<path class="l" d="M1964.25 640.00 L1964.25 1028.00"/>
<path class="l" d="M1973.75 640.00 L1973.75 1028.00"/>
<path class="l" d="M2067.50 435.50 L2067.50 1028.00"/>
<path class="l" d="M2077.00 435.50 L2077.00 1028.00"/>
<path class="lt" d="M1954.50 620.00 L1975.50 620.00"/>
<circle class="wd" cx="1975.5" cy="620" r="1"/>
<path class="lt" d="M1954.50 658.75 L1975.50 658.75"/>
<circle class="wd" cx="1975.5" cy="658.75" r="1"/>
<path class="lt" d="M1954.50 697.50 L1975.50 697.50"/>
<circle class="wd" cx="1975.5" cy="697.5" r="1"/>
<path class="lt" d="M1954.50 736.25 L1975.50 736.25"/>
<circle class="wd" cx="1975.5" cy="736.25" r="1"/>
<path class="lt" d="M1954.50 775.00 L1975.50 775.00"/>
<circle class="wd" cx="1975.5" cy="775.0" r="1"/>
<path class="lt" d="M1954.50 813.75 L1975.50 813.75"/>
<circle class="wd" cx="1975.5" cy="813.75" r="1"/>
<path class="lt" d="M1954.50 852.50 L1975.50 852.50"/>
<circle class="wd" cx="1975.5" cy="852.5" r="1"/>
<path class="lt" d="M1954.50 891.25 L1975.50 891.25"/>
<circle class="wd" cx="1975.5" cy="891.25" r="1"/>
<path class="lt" d="M1956.5 930.0 L1975.5 930.0 M1956.5 935.6 L1975.5 935.6 M1956.5 941.2 L1975.5 941.2 M1956.5 946.8 L1975.5 946.8 M1956.5 952.4 L1975.5 952.4 M1956.5 958.0 L1975.5 958.0 M1956.5 963.6 L1975.5 963.6 M1956.5 969.2 L1975.5 969.2 M1956.5 974.8 L1975.5 974.8 M1956.5 980.4 L1975.5 980.4 M1956.5 986.0 L1975.5 986.0 M1956.5 991.6 L1975.5 991.6 M1956.5 997.2 L1975.5 997.2 M1956.5 1002.8 L1975.5 1002.8"/>
<path class="lt" d="M1956.50 930.00 L1956.50 1003.00"/>
<path class="lt" d="M1975.50 930.00 L1975.50 1003.00"/>
<path class="lt" d="M1974.50 990.00 L1977.00 1010.00 L1980.00 1022.00"/>
<rect x="1954.50" y="417.00" width="9.50" height="225.00" rx="4.04" ry="4.04" fill="#1e2130" stroke="#e2e244" stroke-width="1.5"/>
<circle class="yd" cx="1960.39" cy="422.00" r="1.05"/>
<circle class="yd" cx="1957.92" cy="424.80" r="1.05"/>
<circle class="yd" cx="1960.39" cy="434.50" r="1.05"/>
<circle class="yd" cx="1957.92" cy="437.30" r="1.05"/>
<circle class="yd" cx="1960.39" cy="447.00" r="1.05"/>
<circle class="yd" cx="1957.92" cy="449.80" r="1.05"/>
<circle class="yd" cx="1960.39" cy="459.50" r="1.05"/>
<circle class="yd" cx="1957.92" cy="462.30" r="1.05"/>
<circle class="yd" cx="1960.39" cy="472.00" r="1.05"/>
<circle class="yd" cx="1957.92" cy="474.80" r="1.05"/>
<circle class="yd" cx="1960.39" cy="484.50" r="1.05"/>
<circle class="yd" cx="1957.92" cy="487.30" r="1.05"/>
<circle class="yd" cx="1960.39" cy="497.00" r="1.05"/>
<circle class="yd" cx="1957.92" cy="499.80" r="1.05"/>
<circle class="yd" cx="1960.39" cy="509.50" r="1.05"/>
<circle class="yd" cx="1957.92" cy="512.30" r="1.05"/>
<circle class="yd" cx="1960.39" cy="522.00" r="1.05"/>
<circle class="yd" cx="1957.92" cy="524.80" r="1.05"/>
<circle class="yd" cx="1960.39" cy="534.50" r="1.05"/>
<circle class="yd" cx="1957.92" cy="537.30" r="1.05"/>
<circle class="yd" cx="1960.39" cy="547.00" r="1.05"/>
<circle class="yd" cx="1957.92" cy="549.80" r="1.05"/>
<circle class="yd" cx="1960.39" cy="559.50" r="1.05"/>
<circle class="yd" cx="1957.92" cy="562.30" r="1.05"/>
<circle class="yd" cx="1960.39" cy="572.00" r="1.05"/>
<circle class="yd" cx="1957.92" cy="574.80" r="1.05"/>
<circle class="yd" cx="1960.39" cy="584.50" r="1.05"/>
<circle class="yd" cx="1957.92" cy="587.30" r="1.05"/>
<circle class="yd" cx="1960.39" cy="597.00" r="1.05"/>
<circle class="yd" cx="1957.92" cy="599.80" r="1.05"/>
<circle class="yd" cx="1960.39" cy="609.50" r="1.05"/>
<circle class="yd" cx="1957.92" cy="612.30" r="1.05"/>
<circle class="yd" cx="1960.39" cy="622.00" r="1.05"/>
<circle class="yd" cx="1957.92" cy="624.80" r="1.05"/>
<circle class="yd" cx="1960.39" cy="634.50" r="1.05"/>
<circle class="yd" cx="1957.92" cy="637.30" r="1.05"/>
<rect x="1964.25" y="417.00" width="9.50" height="225.00" rx="4.04" ry="4.04" fill="#1e2130" stroke="#e2e244" stroke-width="1.5"/>
<circle class="yd" cx="1970.14" cy="422.00" r="1.05"/>
<circle class="yd" cx="1967.67" cy="424.80" r="1.05"/>
<circle class="yd" cx="1970.14" cy="434.50" r="1.05"/>
<circle class="yd" cx="1967.67" cy="437.30" r="1.05"/>
<circle class="yd" cx="1970.14" cy="447.00" r="1.05"/>
<circle class="yd" cx="1967.67" cy="449.80" r="1.05"/>
<circle class="yd" cx="1970.14" cy="459.50" r="1.05"/>
<circle class="yd" cx="1967.67" cy="462.30" r="1.05"/>
<circle class="yd" cx="1970.14" cy="472.00" r="1.05"/>
<circle class="yd" cx="1967.67" cy="474.80" r="1.05"/>
<circle class="yd" cx="1970.14" cy="484.50" r="1.05"/>
<circle class="yd" cx="1967.67" cy="487.30" r="1.05"/>
<circle class="yd" cx="1970.14" cy="497.00" r="1.05"/>
<circle class="yd" cx="1967.67" cy="499.80" r="1.05"/>
<circle class="yd" cx="1970.14" cy="509.50" r="1.05"/>
<circle class="yd" cx="1967.67" cy="512.30" r="1.05"/>
<circle class="yd" cx="1970.14" cy="522.00" r="1.05"/>
<circle class="yd" cx="1967.67" cy="524.80" r="1.05"/>
<circle class="yd" cx="1970.14" cy="534.50" r="1.05"/>
<circle class="yd" cx="1967.67" cy="537.30" r="1.05"/>
<circle class="yd" cx="1970.14" cy="547.00" r="1.05"/>
<circle class="yd" cx="1967.67" cy="549.80" r="1.05"/>
<circle class="yd" cx="1970.14" cy="559.50" r="1.05"/>
<circle class="yd" cx="1967.67" cy="562.30" r="1.05"/>
<circle class="yd" cx="1970.14" cy="572.00" r="1.05"/>
<circle class="yd" cx="1967.67" cy="574.80" r="1.05"/>
<circle class="yd" cx="1970.14" cy="584.50" r="1.05"/>
<circle class="yd" cx="1967.67" cy="587.30" r="1.05"/>
<circle class="yd" cx="1970.14" cy="597.00" r="1.05"/>
<circle class="yd" cx="1967.67" cy="599.80" r="1.05"/>
<circle class="yd" cx="1970.14" cy="609.50" r="1.05"/>
<circle class="yd" cx="1967.67" cy="612.30" r="1.05"/>
<circle class="yd" cx="1970.14" cy="622.00" r="1.05"/>
<circle class="yd" cx="1967.67" cy="624.80" r="1.05"/>
<circle class="yd" cx="1970.14" cy="634.50" r="1.05"/>
<circle class="yd" cx="1967.67" cy="637.30" r="1.05"/>
<path d="M1964.1 419 L1964.1 640" stroke="#e6e650" stroke-width="1.6"/>
<path class="l" d="M2027.00 533.00 L2027.00 646.00"/>
<path class="l" d="M2020.00 531.00 L2034.00 545.00"/>
<path class="l" d="M2020.00 634.50 L2034.00 648.50"/>
<path class="l" d="M2000.00 538.00 L2032.00 538.00"/>
<path class="l" d="M1995.00 641.25 L2032.00 641.25"/>
<text transform="translate(2022.5,601.0) rotate(-90)" font-size="12.5" textLength="22.0" lengthAdjust="spacingAndGlyphs">20"</text>
<path class="l" d="M1941.25 1028.00 L2100.00 1028.00"/>
<path class="l" d="M1941.25 1038.25 L2100.00 1038.25"/>
<path class="l" d="M1941.25 1028.00 L1941.25 1098.75"/>
<rect x="1978" y="1027" width="4.6" height="65.5" fill="#c8ccd8"/>
<path class="wd" d="M1973 1028 L1988 1028 L1985 1022 L1976 1022 Z"/>
<path class="lt" d="M2021.8 1050.5 L2023.4 1053.3 L2020.3 1053.3 Z"/>
<path class="lt" d="M2048.1 1095.4 L2049.7 1098.2 L2046.6 1098.2 Z"/>
<path class="lt" d="M1978.0 1097.1 L1979.3 1099.5 L1976.7 1099.5 Z"/>
<circle class="wd" cx="1954.3" cy="1064.2" r="0.85"/>
<circle class="wd" cx="2082.0" cy="1084.2" r="0.85"/>
<path class="lt" d="M2089.4 1058.6 L2091.3 1061.9 L2087.5 1061.9 Z"/>
<path class="lt" d="M2060.7 1041.4 L2062.2 1044.1 L2059.2 1044.1 Z"/>
<path class="lt" d="M2003.0 1059.3 L2004.3 1061.6 L2001.7 1061.6 Z"/>
<circle class="wd" cx="1988.4" cy="1061.7" r="0.85"/>
<path class="lt" d="M1964.2 1096.4 L1965.7 1099.1 L1962.7 1099.1 Z"/>
<path class="lt" d="M2072.3 1088.2 L2073.7 1090.6 L2071.0 1090.6 Z"/>
<circle class="wd" cx="2018.4" cy="1063.0" r="0.85"/>
<circle class="wd" cx="1974.9" cy="1062.5" r="0.85"/>
<circle class="wd" cx="1949.7" cy="1065.2" r="0.85"/>
<path class="lt" d="M2063.8 1042.1 L2065.2 1044.5 L2062.5 1044.5 Z"/>
<path class="lt" d="M2087.6 1054.3 L2089.5 1057.6 L2085.8 1057.6 Z"/>
<circle class="wd" cx="1997.6" cy="1057.1" r="0.85"/>
<path class="lt" d="M2040.6 1055.0 L2042.1 1057.7 L2039.1 1057.7 Z"/>
<path class="lt" d="M1987.7 1039.4 L1989.6 1042.7 L1985.9 1042.7 Z"/>
<path class="lt" d="M2043.3 1095.2 L2044.7 1097.8 L2041.8 1097.8 Z"/>
<circle class="wd" cx="2018.7" cy="1097.4" r="0.85"/>
<path class="lt" d="M2004.9 1054.2 L2006.5 1057.1 L2003.3 1057.1 Z"/>
<circle class="wd" cx="2088.9" cy="1051.8" r="0.85"/>
<path class="lt" d="M2059.5 1087.9 L2061.1 1090.9 L2057.8 1090.9 Z"/>
<path class="lt" d="M1995.8 1058.1 L1997.6 1061.3 L1994.0 1061.3 Z"/>
<path class="lt" d="M1957.2 1051.2 L1958.7 1053.8 L1955.8 1053.8 Z"/>
<path class="lt" d="M1955.0 1041.5 L1956.5 1044.2 L1953.5 1044.2 Z"/>
<circle class="wd" cx="2096.9" cy="1093.1" r="0.85"/>
<path class="lt" d="M1986.1 1044.4 L1987.7 1047.2 L1984.5 1047.2 Z"/>
<path class="lt" d="M2055.0 1065.8 L2056.6 1068.6 L2053.5 1068.6 Z"/>
<path class="l" d="M1655.50 935.50 L1794.50 935.50"/>
<path class="l" d="M1845.00 917.50 L1858.75 917.50 L1858.75 1123.00 L1845.00 1123.00"/>
<path class="l" d="M1751.25 431.75 L1795.00 431.75 L1955.00 500.00"/>
<path class="ah" d="M1955.00 500.00 L1945.86 498.49 L1947.58 494.45 Z"/>
<path class="l" d="M1809.50 575.75 L1853.75 575.75 L1953.75 513.75"/>
<path class="ah" d="M1953.75 513.75 L1947.26 520.36 L1944.94 516.62 Z"/>
<path class="l" d="M1820.00 657.50 L1893.75 657.50 L1967.50 735.00"/>
<path class="ah" d="M1967.50 735.00 L1959.70 730.00 L1962.89 726.96 Z"/>
<path class="l" d="M1847.50 728.00 L1876.25 728.00 L1942.50 775.00"/>
<path class="ah" d="M1942.50 775.00 L1933.89 771.59 L1936.43 768.00 Z"/>
<path class="l" d="M1819.50 843.75 L2006.25 843.75 L1982.50 1005.00"/>
<path class="ah" d="M1982.50 1005.00 L1981.63 995.78 L1985.99 996.42 Z"/>
<path class="l" d="M1858.75 981.75 L1887.50 981.75 L1978.75 1057.50"/>
<path class="ah" d="M1978.75 1057.50 L1970.42 1053.44 L1973.23 1050.06 Z"/>
<circle class="l" cx="1602.8" cy="1172.5" r="24.9"/>
<path class="l" d="M1578.00 1172.50 L1627.70 1172.50"/>
<path class="lk" d="M1636.90 1171.80 L1916.60 1171.80"/>
<rect x="386.25" y="1115.00" width="8.75" height="203.00" rx="3.72" ry="3.72" fill="none" stroke="#e2e244" stroke-width="1.5"/>
<circle class="yd" cx="391.68" cy="1120.00" r="1.05"/>
<circle class="yd" cx="389.40" cy="1122.80" r="1.05"/>
<circle class="yd" cx="391.68" cy="1130.30" r="1.05"/>
<circle class="yd" cx="389.40" cy="1133.10" r="1.05"/>
<circle class="yd" cx="391.68" cy="1140.60" r="1.05"/>
<circle class="yd" cx="389.40" cy="1143.40" r="1.05"/>
<circle class="yd" cx="391.68" cy="1150.90" r="1.05"/>
<circle class="yd" cx="389.40" cy="1153.70" r="1.05"/>
<circle class="yd" cx="391.68" cy="1161.20" r="1.05"/>
<circle class="yd" cx="389.40" cy="1164.00" r="1.05"/>
<circle class="yd" cx="391.68" cy="1171.50" r="1.05"/>
<circle class="yd" cx="389.40" cy="1174.30" r="1.05"/>
<circle class="yd" cx="391.68" cy="1181.80" r="1.05"/>
<circle class="yd" cx="389.40" cy="1184.60" r="1.05"/>
<circle class="yd" cx="391.68" cy="1192.10" r="1.05"/>
<circle class="yd" cx="389.40" cy="1194.90" r="1.05"/>
<circle class="yd" cx="391.68" cy="1202.40" r="1.05"/>
<circle class="yd" cx="389.40" cy="1205.20" r="1.05"/>
<circle class="yd" cx="391.68" cy="1212.70" r="1.05"/>
<circle class="yd" cx="389.40" cy="1215.50" r="1.05"/>
<circle class="yd" cx="391.68" cy="1223.00" r="1.05"/>
<circle class="yd" cx="389.40" cy="1225.80" r="1.05"/>
<circle class="yd" cx="391.68" cy="1233.30" r="1.05"/>
<circle class="yd" cx="389.40" cy="1236.10" r="1.05"/>
<circle class="yd" cx="391.68" cy="1243.60" r="1.05"/>
<circle class="yd" cx="389.40" cy="1246.40" r="1.05"/>
<circle class="yd" cx="391.68" cy="1253.90" r="1.05"/>
<circle class="yd" cx="389.40" cy="1256.70" r="1.05"/>
<circle class="yd" cx="391.68" cy="1264.20" r="1.05"/>
<circle class="yd" cx="389.40" cy="1267.00" r="1.05"/>
<circle class="yd" cx="391.68" cy="1274.50" r="1.05"/>
<circle class="yd" cx="389.40" cy="1277.30" r="1.05"/>
<circle class="yd" cx="391.68" cy="1284.80" r="1.05"/>
<circle class="yd" cx="389.40" cy="1287.60" r="1.05"/>
<circle class="yd" cx="391.68" cy="1295.10" r="1.05"/>
<circle class="yd" cx="389.40" cy="1297.90" r="1.05"/>
<circle class="yd" cx="391.68" cy="1305.40" r="1.05"/>
<circle class="yd" cx="389.40" cy="1308.20" r="1.05"/>
<rect x="395.00" y="1115.00" width="8.00" height="203.00" rx="3.40" ry="3.40" fill="none" stroke="#e2e244" stroke-width="1.5"/>
<circle class="yd" cx="399.96" cy="1120.00" r="1.05"/>
<circle class="yd" cx="397.88" cy="1122.80" r="1.05"/>
<circle class="yd" cx="399.96" cy="1130.30" r="1.05"/>
<circle class="yd" cx="397.88" cy="1133.10" r="1.05"/>
<circle class="yd" cx="399.96" cy="1140.60" r="1.05"/>
<circle class="yd" cx="397.88" cy="1143.40" r="1.05"/>
<circle class="yd" cx="399.96" cy="1150.90" r="1.05"/>
<circle class="yd" cx="397.88" cy="1153.70" r="1.05"/>
<circle class="yd" cx="399.96" cy="1161.20" r="1.05"/>
<circle class="yd" cx="397.88" cy="1164.00" r="1.05"/>
<circle class="yd" cx="399.96" cy="1171.50" r="1.05"/>
<circle class="yd" cx="397.88" cy="1174.30" r="1.05"/>
<circle class="yd" cx="399.96" cy="1181.80" r="1.05"/>
<circle class="yd" cx="397.88" cy="1184.60" r="1.05"/>
<circle class="yd" cx="399.96" cy="1192.10" r="1.05"/>
<circle class="yd" cx="397.88" cy="1194.90" r="1.05"/>
<circle class="yd" cx="399.96" cy="1202.40" r="1.05"/>
<circle class="yd" cx="397.88" cy="1205.20" r="1.05"/>
<circle class="yd" cx="399.96" cy="1212.70" r="1.05"/>
<circle class="yd" cx="397.88" cy="1215.50" r="1.05"/>
<circle class="yd" cx="399.96" cy="1223.00" r="1.05"/>
<circle class="yd" cx="397.88" cy="1225.80" r="1.05"/>
<circle class="yd" cx="399.96" cy="1233.30" r="1.05"/>
<circle class="yd" cx="397.88" cy="1236.10" r="1.05"/>
<circle class="yd" cx="399.96" cy="1243.60" r="1.05"/>
<circle class="yd" cx="397.88" cy="1246.40" r="1.05"/>
<circle class="yd" cx="399.96" cy="1253.90" r="1.05"/>
<circle class="yd" cx="397.88" cy="1256.70" r="1.05"/>
<circle class="yd" cx="399.96" cy="1264.20" r="1.05"/>
<circle class="yd" cx="397.88" cy="1267.00" r="1.05"/>
<circle class="yd" cx="399.96" cy="1274.50" r="1.05"/>
<circle class="yd" cx="397.88" cy="1277.30" r="1.05"/>
<circle class="yd" cx="399.96" cy="1284.80" r="1.05"/>
<circle class="yd" cx="397.88" cy="1287.60" r="1.05"/>
<circle class="yd" cx="399.96" cy="1295.10" r="1.05"/>
<circle class="yd" cx="397.88" cy="1297.90" r="1.05"/>
<circle class="yd" cx="399.96" cy="1305.40" r="1.05"/>
<circle class="yd" cx="397.88" cy="1308.20" r="1.05"/>
<rect x="451.25" y="1115.00" width="7.50" height="146.25" rx="3.19" ry="3.19" fill="none" stroke="#e2e244" stroke-width="1.5"/>
<circle class="yd" cx="455.90" cy="1120.00" r="1.05"/>
<circle class="yd" cx="453.95" cy="1122.80" r="1.05"/>
<circle class="yd" cx="455.90" cy="1130.30" r="1.05"/>
<circle class="yd" cx="453.95" cy="1133.10" r="1.05"/>
<circle class="yd" cx="455.90" cy="1140.60" r="1.05"/>
<circle class="yd" cx="453.95" cy="1143.40" r="1.05"/>
<circle class="yd" cx="455.90" cy="1150.90" r="1.05"/>
<circle class="yd" cx="453.95" cy="1153.70" r="1.05"/>
<circle class="yd" cx="455.90" cy="1161.20" r="1.05"/>
<circle class="yd" cx="453.95" cy="1164.00" r="1.05"/>
<circle class="yd" cx="455.90" cy="1171.50" r="1.05"/>
<circle class="yd" cx="453.95" cy="1174.30" r="1.05"/>
<circle class="yd" cx="455.90" cy="1181.80" r="1.05"/>
<circle class="yd" cx="453.95" cy="1184.60" r="1.05"/>
<circle class="yd" cx="455.90" cy="1192.10" r="1.05"/>
<circle class="yd" cx="453.95" cy="1194.90" r="1.05"/>
<circle class="yd" cx="455.90" cy="1202.40" r="1.05"/>
<circle class="yd" cx="453.95" cy="1205.20" r="1.05"/>
<circle class="yd" cx="455.90" cy="1212.70" r="1.05"/>
<circle class="yd" cx="453.95" cy="1215.50" r="1.05"/>
<circle class="yd" cx="455.90" cy="1223.00" r="1.05"/>
<circle class="yd" cx="453.95" cy="1225.80" r="1.05"/>
<circle class="yd" cx="455.90" cy="1233.30" r="1.05"/>
<circle class="yd" cx="453.95" cy="1236.10" r="1.05"/>
<circle class="yd" cx="455.90" cy="1243.60" r="1.05"/>
<circle class="yd" cx="453.95" cy="1246.40" r="1.05"/>
<circle class="yd" cx="455.90" cy="1253.90" r="1.05"/>
<circle class="yd" cx="453.95" cy="1256.70" r="1.05"/>
<rect x="458.75" y="1115.00" width="7.50" height="146.25" rx="3.19" ry="3.19" fill="none" stroke="#e2e244" stroke-width="1.5"/>
<circle class="yd" cx="463.40" cy="1120.00" r="1.05"/>
<circle class="yd" cx="461.45" cy="1122.80" r="1.05"/>
<circle class="yd" cx="463.40" cy="1130.30" r="1.05"/>
<circle class="yd" cx="461.45" cy="1133.10" r="1.05"/>
<circle class="yd" cx="463.40" cy="1140.60" r="1.05"/>
<circle class="yd" cx="461.45" cy="1143.40" r="1.05"/>
<circle class="yd" cx="463.40" cy="1150.90" r="1.05"/>
<circle class="yd" cx="461.45" cy="1153.70" r="1.05"/>
<circle class="yd" cx="463.40" cy="1161.20" r="1.05"/>
<circle class="yd" cx="461.45" cy="1164.00" r="1.05"/>
<circle class="yd" cx="463.40" cy="1171.50" r="1.05"/>
<circle class="yd" cx="461.45" cy="1174.30" r="1.05"/>
<circle class="yd" cx="463.40" cy="1181.80" r="1.05"/>
<circle class="yd" cx="461.45" cy="1184.60" r="1.05"/>
<circle class="yd" cx="463.40" cy="1192.10" r="1.05"/>
<circle class="yd" cx="461.45" cy="1194.90" r="1.05"/>
<circle class="yd" cx="463.40" cy="1202.40" r="1.05"/>
<circle class="yd" cx="461.45" cy="1205.20" r="1.05"/>
<circle class="yd" cx="463.40" cy="1212.70" r="1.05"/>
<circle class="yd" cx="461.45" cy="1215.50" r="1.05"/>
<circle class="yd" cx="463.40" cy="1223.00" r="1.05"/>
<circle class="yd" cx="461.45" cy="1225.80" r="1.05"/>
<circle class="yd" cx="463.40" cy="1233.30" r="1.05"/>
<circle class="yd" cx="461.45" cy="1236.10" r="1.05"/>
<circle class="yd" cx="463.40" cy="1243.60" r="1.05"/>
<circle class="yd" cx="461.45" cy="1246.40" r="1.05"/>
<circle class="yd" cx="463.40" cy="1253.90" r="1.05"/>
<circle class="yd" cx="461.45" cy="1256.70" r="1.05"/>
<path d="M395 1117 L395 1316 M458.75 1117 L458.75 1259" stroke="#e6e650" stroke-width="1.8"/>
<path class="l" d="M386.25 1081.25 L386.25 1115.00"/>
<path class="l" d="M392.50 1081.25 L392.50 1115.00"/>
<path class="l" d="M402.00 1081.25 L402.00 1115.00"/>
<path class="l" d="M451.25 1081.25 L451.25 1115.00"/>
<path class="l" d="M458.75 1081.25 L458.75 1115.00"/>
<path class="l" d="M466.25 1081.25 L466.25 1115.00"/>
<circle class="wd" cx="389.50" cy="1086.00" r="0.85"/>
<circle class="wd" cx="389.50" cy="1094.00" r="0.85"/>
<circle class="wd" cx="389.50" cy="1102.00" r="0.85"/>
<circle class="wd" cx="389.50" cy="1110.00" r="0.85"/>
<circle class="wd" cx="397.50" cy="1090.00" r="0.85"/>
<circle class="wd" cx="397.50" cy="1098.00" r="0.85"/>
<circle class="wd" cx="397.50" cy="1106.00" r="0.85"/>
<circle class="wd" cx="455.00" cy="1086.00" r="0.85"/>
<circle class="wd" cx="455.00" cy="1094.00" r="0.85"/>
<circle class="wd" cx="455.00" cy="1102.00" r="0.85"/>
<circle class="wd" cx="455.00" cy="1110.00" r="0.85"/>
<circle class="wd" cx="462.50" cy="1090.00" r="0.85"/>
<circle class="wd" cx="462.50" cy="1098.00" r="0.85"/>
<circle class="wd" cx="462.50" cy="1106.00" r="0.85"/>
<path class="l" d="M403.00 1153.75 L451.25 1153.75"/>
<path class="l" d="M403.00 1160.00 L451.25 1160.00"/>
<circle class="wd" cx="405" cy="1157" r="0.9"/><circle class="wd" cx="405" cy="1164.5" r="0.9"/>
<circle class="wd" cx="420" cy="1157" r="0.9"/><circle class="wd" cx="420" cy="1164.5" r="0.9"/>
<circle class="wd" cx="435" cy="1157" r="0.9"/><circle class="wd" cx="435" cy="1164.5" r="0.9"/>
<circle class="wd" cx="449" cy="1157" r="0.9"/><circle class="wd" cx="449" cy="1164.5" r="0.9"/>
<clipPath id="cb"><rect x="395" y="1172.5" width="125" height="37.5"/></clipPath>
<g clip-path="url(#cb)">
<path class="hat" d="M395.0 1172.5 L395.0 1172.5 M395.0 1175.1 L397.6 1172.5 M395.0 1177.7 L400.2 1172.5 M395.0 1180.3 L402.8 1172.5 M395.0 1182.9 L405.4 1172.5 M395.0 1185.5 L408.0 1172.5 M395.0 1188.1 L410.6 1172.5 M395.0 1190.7 L413.2 1172.5 M395.0 1193.3 L415.8 1172.5 M395.0 1195.9 L418.4 1172.5 M395.0 1198.5 L421.0 1172.5 M395.0 1201.1 L423.6 1172.5 M395.0 1203.7 L426.2 1172.5 M395.0 1206.3 L428.8 1172.5 M395.0 1208.9 L431.4 1172.5 M396.5 1210.0 L434.0 1172.5 M399.1 1210.0 L436.6 1172.5 M401.7 1210.0 L439.2 1172.5 M404.3 1210.0 L441.8 1172.5 M406.9 1210.0 L444.4 1172.5 M409.5 1210.0 L447.0 1172.5 M412.1 1210.0 L449.6 1172.5 M414.7 1210.0 L452.2 1172.5 M417.3 1210.0 L454.8 1172.5 M419.9 1210.0 L457.4 1172.5 M422.5 1210.0 L460.0 1172.5 M425.1 1210.0 L462.6 1172.5 M427.7 1210.0 L465.2 1172.5 M430.3 1210.0 L467.8 1172.5 M432.9 1210.0 L470.4 1172.5 M435.5 1210.0 L473.0 1172.5 M438.1 1210.0 L475.6 1172.5 M440.7 1210.0 L478.2 1172.5 M443.3 1210.0 L480.8 1172.5 M445.9 1210.0 L483.4 1172.5 M448.5 1210.0 L486.0 1172.5 M451.1 1210.0 L488.6 1172.5 M453.7 1210.0 L491.2 1172.5 M456.3 1210.0 L493.8 1172.5 M458.9 1210.0 L496.4 1172.5 M461.5 1210.0 L499.0 1172.5 M464.1 1210.0 L501.6 1172.5 M466.7 1210.0 L504.2 1172.5 M469.3 1210.0 L506.8 1172.5 M471.9 1210.0 L509.4 1172.5 M474.5 1210.0 L512.0 1172.5 M477.1 1210.0 L514.6 1172.5 M479.7 1210.0 L517.2 1172.5 M482.3 1210.0 L519.8 1172.5 M484.9 1210.0 L520.0 1174.9 M487.5 1210.0 L520.0 1177.5 M490.1 1210.0 L520.0 1180.1 M492.7 1210.0 L520.0 1182.7 M495.3 1210.0 L520.0 1185.3 M497.9 1210.0 L520.0 1187.9 M500.5 1210.0 L520.0 1190.5 M503.1 1210.0 L520.0 1193.1 M505.7 1210.0 L520.0 1195.7 M508.3 1210.0 L520.0 1198.3 M510.9 1210.0 L520.0 1200.9 M513.5 1210.0 L520.0 1203.5 M516.1 1210.0 L520.0 1206.1 M518.7 1210.0 L520.0 1208.7"/>
</g>
<path class="l" d="M387.50 1168.00 L575.00 1168.00"/>
<path class="l" d="M387.50 1172.50 L575.00 1172.50"/>
<path class="l" d="M387.50 1210.00 L575.00 1210.00"/>
<path class="l" d="M387.50 1217.50 L575.00 1217.50"/>
<path class="l" d="M387.50 1225.00 L575.00 1225.00"/>
<path class="l" d="M403.00 1263.25 L575.00 1263.25"/>
<path class="l" d="M520.00 1172.50 L520.00 1210.00"/>
<path class="l" d="M525.00 1172.50 L525.00 1210.00"/>
<path class="lt" d="M520.00 1173.00 L525.00 1191.00 L520.00 1209.00"/>
<path class="lt" d="M525.00 1173.00 L520.00 1191.00 L525.00 1209.00"/>
<path class="lt" d="M387.50 1173.00 L395.00 1191.00 L387.50 1209.00"/>
<path class="lt" d="M395.00 1173.00 L387.50 1191.00 L395.00 1209.00"/>
<path class="lt" d="M451.50 1173.00 L458.50 1191.00 L451.50 1209.00"/>
<path class="lt" d="M458.50 1173.00 L451.50 1191.00 L458.50 1209.00"/>
<path class="lt" d="M390.00 1115.00 L411.00 1094.00"/>
<path class="lt" d="M403.00 1130.00 L440.00 1098.00"/>
<path class="lt" d="M415.00 1117.00 L440.00 1095.00"/>
<path class="lt" d="M410.00 1155.00 L440.00 1125.00"/>
<path class="lt" d="M444.00 1148.00 L465.00 1128.00"/>
<path class="lt" d="M420.00 1168.00 L430.00 1160.00"/>
<path class="l" d="M493.75 1032.00 L483.75 1032.00 L400.00 1121.25"/>
<path class="ah" d="M400.00 1121.25 L404.55 1113.18 L407.76 1116.19 Z"/>
<path class="l" d="M483.75 1032.00 L458.75 1112.50"/>
<path class="ah" d="M458.75 1112.50 L459.32 1103.25 L463.52 1104.56 Z"/>
<path class="l" d="M493.75 1085.00 L487.50 1085.00 L487.50 1180.00"/>
<path class="ah" d="M487.50 1180.00 L485.30 1171.00 L489.70 1171.00 Z"/>
<path class="l" d="M347.50 1104.50 L356.25 1104.50 L385.00 1141.25"/>
<path class="ah" d="M385.00 1141.25 L377.72 1135.52 L381.19 1132.81 Z"/>
<path class="l" d="M347.50 1254.50 L356.25 1254.50 L385.00 1290.00"/>
<path class="ah" d="M385.00 1290.00 L377.63 1284.39 L381.05 1281.62 Z"/>
<path class="l" d="M493.75 1279.50 L487.50 1279.50 L505.00 1228.75"/>
<path class="ah" d="M505.00 1228.75 L504.15 1237.98 L499.99 1236.54 Z"/>
<path class="l" d="M493.75 1308.25 L482.50 1308.25 L427.50 1253.75"/>
<path class="ah" d="M427.50 1253.75 L435.44 1258.52 L432.34 1261.65 Z"/>
<path class="l" d="M380.50 1344.80 L604.00 1344.80"/>
<rect class="wd" x="809.80" y="1120.90" width="2.40" height="111.10"/>
<rect class="wd" x="809.80" y="1229.60" width="82.10" height="2.40"/>
<path class="l" d="M829.20 1120.90 L829.20 1202.20"/>
<path class="l" d="M829.20 1202.20 L895.60 1202.20"/>
<path class="dash" d="M895.60 1202.20 L1030.00 1202.20"/>
<path class="dash" d="M891.90 1231.00 L1030.00 1231.00"/>
<rect class="lt" x="812.80" y="1135.00" width="16.40" height="8.30"/>
<path class="lt" d="M812.80 1135.00 L829.20 1143.30"/>
<path class="lt" d="M812.80 1143.30 L829.20 1135.00"/>
<rect class="lt" x="812.80" y="1194.70" width="16.40" height="6.70"/>
<path class="lt" d="M812.80 1194.70 L829.20 1201.40"/>
<path class="lt" d="M812.80 1201.40 L829.20 1194.70"/>
<rect class="lt" x="812.80" y="1203.00" width="14.90" height="25.30"/>
<path class="lt" d="M812.80 1203.00 L820.25 1228.30"/>
<path class="lt" d="M820.25 1203.00 L812.80 1228.30"/>
<path class="lt" d="M820.25 1203.00 L827.70 1228.30"/>
<path class="lt" d="M827.70 1203.00 L820.25 1228.30"/>
<rect class="lt" x="877.00" y="1203.00" width="14.90" height="25.30"/>
<path class="lt" d="M877.00 1203.00 L884.45 1228.30"/>
<path class="lt" d="M884.45 1203.00 L877.00 1228.30"/>
<path class="lt" d="M884.45 1203.00 L891.90 1228.30"/>
<path class="lt" d="M891.90 1203.00 L884.45 1228.30"/>
<path class="l" d="M827.70 1203.00 L827.70 1228.30"/>
<path class="l" d="M877.00 1203.00 L877.00 1228.30"/>
<rect class="l" x="828.5" y="1210.4" width="11.2" height="11.9" rx="2.5"/>
<circle class="lt" cx="834.1" cy="1216.3" r="1.6"/>
<rect class="l" x="864.3" y="1210.4" width="11.2" height="11.9" rx="2.5"/>
<circle class="lt" cx="869.9" cy="1216.3" r="1.6"/>
<path class="l" d="M894.10 1118.30 L879.20 1118.30 L831.40 1138.80"/>
<path class="ah" d="M831.40 1138.80 L838.80 1133.23 L840.54 1137.27 Z"/>
<path class="l" d="M894.10 1135.00 L879.90 1135.00 L854.60 1201.40"/>
<path class="ah" d="M854.60 1201.40 L855.75 1192.21 L859.86 1193.77 Z"/>
<path class="l" d="M764.30 1254.40 L754.60 1254.40 L809.10 1145.50"/>
<path class="ah" d="M809.10 1145.50 L807.04 1154.53 L803.10 1152.56 Z"/>
<path class="l" d="M841.10 1254.40 L847.90 1254.40 L836.70 1233.50"/>
<path class="l" d="M890.40 1249.90 L877.70 1249.90 L839.70 1222.30"/>
<path class="ah" d="M839.70 1222.30 L848.27 1225.81 L845.69 1229.37 Z"/>
<path class="l" d="M877.70 1249.90 L872.50 1225.30"/>
<path class="ah" d="M872.50 1225.30 L876.51 1233.65 L872.21 1234.56 Z"/>
<rect class="l" x="830.30" y="1301.40" width="141.40" height="26.90"/>
<circle class="l" cx="690.2" cy="1459" r="24.2"/>
<path class="l" d="M666.00 1459.00 L714.40 1459.00"/>
<rect x="583.3" y="1449.8" width="82.2" height="18.2" fill="none" stroke="#ccd0e2" stroke-width="2"/>
<path class="lk" d="M724.40 1458.80 L1180.90 1458.80"/>
<text x="218.8" y="379.5" font-size="12.3" textLength="96.2" lengthAdjust="spacingAndGlyphs">(2) ROWS OF 16d</text>
<text x="218.8" y="393.0" font-size="12.3" textLength="78.8" lengthAdjust="spacingAndGlyphs">SINKER NAILS</text>
<text x="218.8" y="407.0" font-size="12.3" textLength="56.2" lengthAdjust="spacingAndGlyphs">AT 3" OC.</text>
<text x="218.8" y="484.2" font-size="12.3" textLength="142.5" lengthAdjust="spacingAndGlyphs">(2) SIMPSON CS16 STRAP</text>
<text x="218.8" y="498.8" font-size="12.3" textLength="136.2" lengthAdjust="spacingAndGlyphs">WITH 8d NAILS. (EXTEND</text>
<text x="218.8" y="512.5" font-size="12.3" textLength="147.5" lengthAdjust="spacingAndGlyphs">TO WALL TOP PLATE AND</text>
<text x="218.8" y="526.8" font-size="12.3" textLength="109.2" lengthAdjust="spacingAndGlyphs">EXTEND 20" UNDER</text>
<text x="218.8" y="541.2" font-size="12.3" textLength="52.5" lengthAdjust="spacingAndGlyphs">HEADER).</text>
<text x="218.8" y="580.5" font-size="12.3" textLength="147.5" lengthAdjust="spacingAndGlyphs">MIN (2)2X WALL FRAMING.</text>
<text x="218.8" y="594.2" font-size="12.3" textLength="117.5" lengthAdjust="spacingAndGlyphs">SEE PLAN FOR STUD</text>
<text x="218.8" y="608.0" font-size="12.3" textLength="136.2" lengthAdjust="spacingAndGlyphs">COLUMN REQUIREMENTS.</text>
<text x="218.8" y="648.8" font-size="12.3" textLength="139.2" lengthAdjust="spacingAndGlyphs">⅝" DIAM. ANCHOR BOLT</text>
<text x="218.8" y="662.0" font-size="12.3" textLength="121.2" lengthAdjust="spacingAndGlyphs">(7" EMBEDMENT) WITH</text>
<text x="218.8" y="677.5" font-size="12.3" textLength="148.8" lengthAdjust="spacingAndGlyphs">2"x2"x³⁄₁₆" PLATE WASHER.</text>
<text x="217.0" y="740.9" font-size="10.3" textLength="153.0" lengthAdjust="spacingAndGlyphs">3,500 LB HOLDOWN (SIMPSON</text>
<text x="217.0" y="753.5" font-size="10.3" textLength="165.0" lengthAdjust="spacingAndGlyphs">HTT4 HOLDOWN W/ 18-16dx2-1/2"</text>
<text x="217.0" y="766.6" font-size="10.3" textLength="89.2" lengthAdjust="spacingAndGlyphs">NAILS OR EQUAL)</text>
<text x="217.0" y="790.0" font-size="10.3" textLength="120.0" lengthAdjust="spacingAndGlyphs">½" x 15" SIMPSON TITEN</text>
<text x="219.0" y="801.5" font-size="10.3" textLength="61.0" lengthAdjust="spacingAndGlyphs">HD ANCHOR</text>
<text x="219.0" y="813.8" font-size="10.3" textLength="90.5" lengthAdjust="spacingAndGlyphs">(THD501500H) OR</text>
<text x="219.0" y="828.0" font-size="10.3" textLength="126.0" lengthAdjust="spacingAndGlyphs">⅝" DIA. THREADED ROD</text>
<text x="219.0" y="841.2" font-size="10.3" textLength="93.0" lengthAdjust="spacingAndGlyphs">W/ ⅜"x1-1/2"x1-1/2"</text>
<text x="219.0" y="852.5" font-size="10.3" textLength="111.0" lengthAdjust="spacingAndGlyphs">PLATE WASHERS AND</text>
<text x="219.0" y="865.0" font-size="10.3" textLength="90.5" lengthAdjust="spacingAndGlyphs">NUTS AT BOTTOM.</text>
<text x="219.0" y="877.5" font-size="10.3" textLength="117.0" lengthAdjust="spacingAndGlyphs">INSTALL AT CONCRETE</text>
<text x="219.0" y="890.0" font-size="10.3" textLength="68.5" lengthAdjust="spacingAndGlyphs">POUR (MIN 15"</text>
<text x="219.0" y="903.8" font-size="10.3" textLength="67.0" lengthAdjust="spacingAndGlyphs">EMBEDMENT).</text>
<text x="223.8" y="925.0" font-size="10.3" textLength="135.2" lengthAdjust="spacingAndGlyphs">NOTE: 3,500 LB HOLDOWN</text>
<text x="223.8" y="937.5" font-size="10.3" textLength="129.2" lengthAdjust="spacingAndGlyphs">STRAP OPTION: SIMPSON</text>
<text x="223.8" y="950.0" font-size="10.3" textLength="148.8" lengthAdjust="spacingAndGlyphs">STHD14 STRAP-TIE HOLDOWN</text>
<text x="223.8" y="962.5" font-size="10.3" textLength="157.2" lengthAdjust="spacingAndGlyphs">W/ 28-16d SINKERS OR EQUAL.</text>
<text x="223.8" y="975.0" font-size="10.3" textLength="153.8" lengthAdjust="spacingAndGlyphs">INSTALL FOUNDATION RE-BAR</text>
<text x="223.8" y="987.5" font-size="10.3" textLength="156.2" lengthAdjust="spacingAndGlyphs">PER MANUFACTURES' DETAILS.</text>
<text x="631.2" y="292.0" font-size="10.2" textLength="166.2" lengthAdjust="spacingAndGlyphs">NOTE: FOR 3" WIDE HEADERS IN</text>
<text x="631.2" y="304.5" font-size="10.2" textLength="146.8" lengthAdjust="spacingAndGlyphs">2x6 WALLS, PROVIDE SOLID</text>
<text x="631.2" y="317.0" font-size="10.2" textLength="118.8" lengthAdjust="spacingAndGlyphs">BLOCKING AT STRAPS.</text>
<text x="631.2" y="396.2" font-size="10.2" textLength="157.5" lengthAdjust="spacingAndGlyphs">NOTE: AT INTERMEDIATE WALL</text>
<text x="631.2" y="408.8" font-size="10.2" textLength="181.8" lengthAdjust="spacingAndGlyphs">SEGMENTS BETWEEN OPENINGS, THE</text>
<text x="631.2" y="421.2" font-size="10.2" textLength="173.8" lengthAdjust="spacingAndGlyphs">STRAPS SHALL BE INSTALLED AT</text>
<text x="631.2" y="433.8" font-size="10.2" textLength="185.8" lengthAdjust="spacingAndGlyphs">THE STUD COLUMN ON EACH END OF</text>
<text x="631.2" y="446.2" font-size="10.2" textLength="103.8" lengthAdjust="spacingAndGlyphs">THE WALL SEGMENT.</text>
<text x="615.0" y="479.5" font-size="10.2" textLength="168.2" lengthAdjust="spacingAndGlyphs">MIN. 3"x11.25" HEADER. SEE PLAN</text>
<text x="615.0" y="492.0" font-size="10.2" textLength="138.0" lengthAdjust="spacingAndGlyphs">FOR ACTUAL SIZE. EXTEND</text>
<text x="615.0" y="504.5" font-size="10.2" textLength="68.8" lengthAdjust="spacingAndGlyphs">OVER PANEL.</text>
<text x="615.0" y="531.8" font-size="10.2" textLength="163.8" lengthAdjust="spacingAndGlyphs">FASTEN SHEATHING TO HEADER</text>
<text x="615.0" y="544.2" font-size="10.2" textLength="171.2" lengthAdjust="spacingAndGlyphs">W/ 8d COMMON NAILS IN 3" GRID</text>
<text x="615.0" y="556.8" font-size="10.2" textLength="148.8" lengthAdjust="spacingAndGlyphs">PATTERN AND 3" O.C. IN ALL</text>
<text x="615.0" y="570.0" font-size="10.2" textLength="172.0" lengthAdjust="spacingAndGlyphs">FRAMING (STUDS, BLOCKING, AND</text>
<text x="615.0" y="583.0" font-size="10.2" textLength="58.8" lengthAdjust="spacingAndGlyphs">SILLS) TYP.</text>
<text x="615.0" y="616.2" font-size="10.2" textLength="126.2" lengthAdjust="spacingAndGlyphs">PANEL EDGES SHALL BE</text>
<text x="615.0" y="628.8" font-size="10.2" textLength="173.0" lengthAdjust="spacingAndGlyphs">BLOCKED AND OCCUR WITHIN 24"</text>
<text x="615.0" y="641.2" font-size="10.2" textLength="153.8" lengthAdjust="spacingAndGlyphs">OF MID-HEIGHT.  ONE ROW OF</text>
<text x="615.0" y="653.8" font-size="10.2" textLength="152.0" lengthAdjust="spacingAndGlyphs">TYP. SHEATHING-TO-FRAMING</text>
<text x="615.0" y="666.8" font-size="10.2" textLength="132.5" lengthAdjust="spacingAndGlyphs">NAILING IS REQ'D (3" OC).</text>
<text x="615.0" y="679.2" font-size="10.2" textLength="171.2" lengthAdjust="spacingAndGlyphs">ATTACH BLOCKING TOGETHER W/</text>
<text x="615.0" y="692.5" font-size="10.2" textLength="83.8" lengthAdjust="spacingAndGlyphs">(3) 16d SINKERS.</text>
<text x="615.5" y="722.0" font-size="12.6" textLength="70.8" lengthAdjust="spacingAndGlyphs">(1) 2x PLATE</text>
<text x="615.5" y="756.7" font-size="10.9" textLength="83.2" lengthAdjust="spacingAndGlyphs">TREATED PLATE</text>
<text x="616.2" y="811.5" font-size="10.4" textLength="118.8" lengthAdjust="spacingAndGlyphs">CURB HEIGHT (MAX): 6"</text>
<text x="616.2" y="824.2" font-size="10.4" textLength="79.8" lengthAdjust="spacingAndGlyphs">CURB WIDTH: 8"</text>
<text x="661.2" y="902.5" font-size="10.2" textLength="106.2" lengthAdjust="spacingAndGlyphs">MIN. TURN-DOWN FTG</text>
<text x="661.2" y="915.0" font-size="10.2" textLength="122.0" lengthAdjust="spacingAndGlyphs">UNDER OPENING: 12"x12"</text>
<text x="920.0" y="486.2" font-size="10.9" textLength="48.8" lengthAdjust="spacingAndGlyphs">6' TO 18'</text>
<text x="920.0" y="722.5" font-size="10.9" textLength="115.0" lengthAdjust="spacingAndGlyphs">MIN 7/16" THICK WOOD</text>
<text x="920.0" y="735.0" font-size="10.9" textLength="101.2" lengthAdjust="spacingAndGlyphs">STRUCTURAL PANEL</text>
<text x="920.0" y="747.0" font-size="10.9" textLength="55.8" lengthAdjust="spacingAndGlyphs">SHEATHING</text>
<text x="943.0" y="779.2" font-size="11.6" textLength="70.8" lengthAdjust="spacingAndGlyphs">(1)2 x PLATE</text>
<text x="942.0" y="842.0" font-size="12.0" textLength="110.0" lengthAdjust="spacingAndGlyphs">TREATED SILL PLATE</text>
<text x="485.0" y="955.5" font-size="14.6" textLength="100.0" lengthAdjust="spacingAndGlyphs">INTERIOR VIEW</text>
<text x="846.2" y="955.5" font-size="14.6" textLength="107.0" lengthAdjust="spacingAndGlyphs">EXTERIOR VIEW</text>
<text x="1051.6" y="591.6" font-size="10.2" textLength="132.6" lengthAdjust="spacingAndGlyphs">NOTE: 3,500 LB HOLDOWN</text>
<text x="1051.6" y="603.8" font-size="10.2" textLength="126.0" lengthAdjust="spacingAndGlyphs">STRAP OPTION: SIMPSON</text>
<text x="1051.6" y="616.0" font-size="10.2" textLength="145.4" lengthAdjust="spacingAndGlyphs">STHD14 STRAP-TIE HOLDOWN</text>
<text x="1051.6" y="628.2" font-size="10.2" textLength="154.4" lengthAdjust="spacingAndGlyphs">W/ 28-16d SINKERS OR EQUAL.</text>
<text x="1051.6" y="640.4" font-size="10.2" textLength="150.1" lengthAdjust="spacingAndGlyphs">INSTALL FOUNDATION RE-BAR</text>
<text x="1051.6" y="652.2" font-size="10.2" textLength="151.0" lengthAdjust="spacingAndGlyphs">PER MANUFACTURES DETAILS.</text>
<text x="1048.4" y="675.0" font-size="10.2" textLength="150.1" lengthAdjust="spacingAndGlyphs">3,500 LB HOLDOWN (SIMPSON</text>
<text x="1048.4" y="687.3" font-size="10.2" textLength="91.4" lengthAdjust="spacingAndGlyphs">HTT4 HOLDOWN W/</text>
<text x="1048.4" y="699.5" font-size="10.2" textLength="97.0" lengthAdjust="spacingAndGlyphs">18-16dx2-1/2" NAILS</text>
<text x="1048.4" y="712.0" font-size="10.2" textLength="53.8" lengthAdjust="spacingAndGlyphs">OR EQUAL)</text>
<text x="1302.0" y="708.8" font-size="8.7" textLength="83.0" lengthAdjust="spacingAndGlyphs">2X WALL FRAMING</text>
<text x="1303.0" y="745.4" font-size="8.7" textLength="55.0" lengthAdjust="spacingAndGlyphs">(1) 2x PLATE</text>
<text x="1304.3" y="768.9" font-size="8.7" textLength="71.5" lengthAdjust="spacingAndGlyphs">TREATED PLATE</text>
<text x="1304.3" y="789.5" font-size="8.7" textLength="103.2" lengthAdjust="spacingAndGlyphs">CURB HEIGHT (MAX): 6"</text>
<text x="1304.3" y="800.4" font-size="8.7" textLength="70.5" lengthAdjust="spacingAndGlyphs">CURB WIDTH: 8"</text>
<text x="1306.7" y="817.6" font-size="8.7" textLength="142.3" lengthAdjust="spacingAndGlyphs">STRAP OPTION: MIN. #4 REBAR,</text>
<text x="1306.7" y="828.9" font-size="8.7" textLength="124.8" lengthAdjust="spacingAndGlyphs">SET 4" FROM TOP OF CURB.</text>
<text x="1064.7" y="774.9" font-size="8.7" textLength="43.2" lengthAdjust="spacingAndGlyphs">OPTIONAL</text>
<text x="1064.7" y="785.4" font-size="8.7" textLength="34.3" lengthAdjust="spacingAndGlyphs">VENEER</text>
<text x="1325.0" y="893.2" font-size="8.7" textLength="117.8" lengthAdjust="spacingAndGlyphs">½" x 15" SIMPSON TITEN</text>
<text x="1325.0" y="904.1" font-size="8.7" textLength="60.9" lengthAdjust="spacingAndGlyphs">HD ANCHOR</text>
<text x="1325.0" y="916.7" font-size="8.7" textLength="70.8" lengthAdjust="spacingAndGlyphs">(THD501500H)</text>
<text x="1143.9" y="939.8" font-size="12.2" textLength="49.7" lengthAdjust="spacingAndGlyphs">VENEER</text>
<text x="1147.8" y="954.8" font-size="12.2" textLength="40.7" lengthAdjust="spacingAndGlyphs">LEDGE</text>
<text x="1244.4" y="955.7" font-size="12.2" textLength="23.9" lengthAdjust="spacingAndGlyphs">SEE</text>
<text x="1240.5" y="970.7" font-size="12.2" textLength="31.5" lengthAdjust="spacingAndGlyphs">PLAN</text>
<text x="1210.0" y="1004.9" font-size="14.1" textLength="119.8" lengthAdjust="spacingAndGlyphs">FOOTING SECTION</text>
<text x="1194.0" y="1361.0" font-size="14.6" textLength="95.3" lengthAdjust="spacingAndGlyphs">SIMPSON HTT4</text>
<text x="1320.6" y="1361.0" font-size="14.6" textLength="109.7" lengthAdjust="spacingAndGlyphs">SIMPSON STHD14</text>
<text x="1610.5" y="437.5" font-size="14.2" textLength="129.5" lengthAdjust="spacingAndGlyphs">NOTE: FOR 3" WIDE</text>
<text x="1610.5" y="453.8" font-size="14.2" textLength="164.5" lengthAdjust="spacingAndGlyphs">HEADERS IN 2x6 WALLS,</text>
<text x="1610.5" y="469.5" font-size="14.2" textLength="180.8" lengthAdjust="spacingAndGlyphs">PROVIDE SOLID BLOCKING</text>
<text x="1610.5" y="485.5" font-size="14.2" textLength="79.5" lengthAdjust="spacingAndGlyphs">AT STRAPS.</text>
<text x="1608.8" y="549.5" font-size="15.2" textLength="186.2" lengthAdjust="spacingAndGlyphs">(2) SIMPSON CS16 STRAP</text>
<text x="1608.8" y="568.8" font-size="15.2" textLength="178.8" lengthAdjust="spacingAndGlyphs">WITH 8d NAILS. (EXTEND</text>
<text x="1608.8" y="587.0" font-size="15.2" textLength="192.5" lengthAdjust="spacingAndGlyphs">TO WALL TOP PLATE AND</text>
<text x="1608.8" y="605.5" font-size="15.2" textLength="142.5" lengthAdjust="spacingAndGlyphs">EXTEND 20" UNDER</text>
<text x="1608.8" y="623.8" font-size="15.2" textLength="68.8" lengthAdjust="spacingAndGlyphs">HEADER).</text>
<text x="1652.0" y="663.0" font-size="15.2" textLength="167.5" lengthAdjust="spacingAndGlyphs">ATTACH KING STUD TO</text>
<text x="1652.0" y="681.2" font-size="15.2" textLength="188.0" lengthAdjust="spacingAndGlyphs">SUPPORT STUDS WITH 10d</text>
<text x="1652.0" y="699.5" font-size="15.2" textLength="113.0" lengthAdjust="spacingAndGlyphs">NAILS @ 8" OC.</text>
<text x="1653.8" y="735.5" font-size="15.2" textLength="193.8" lengthAdjust="spacingAndGlyphs">MIN (2)2X SUPPORT STUDS</text>
<text x="1653.8" y="755.0" font-size="15.2" textLength="173.2" lengthAdjust="spacingAndGlyphs">AND (1) KING STUD (SEE</text>
<text x="1653.8" y="773.8" font-size="15.2" textLength="183.8" lengthAdjust="spacingAndGlyphs">PLAN FOR STUD COLUMN</text>
<text x="1653.8" y="792.0" font-size="15.2" textLength="118.2" lengthAdjust="spacingAndGlyphs">REQUIREMENTS).</text>
<text x="1654.5" y="836.2" font-size="15.2" textLength="143.0" lengthAdjust="spacingAndGlyphs">1,000 LB HOLDOWN</text>
<text x="1654.5" y="855.0" font-size="15.2" textLength="110.5" lengthAdjust="spacingAndGlyphs">(SIMPSON HTT4</text>
<text x="1654.5" y="873.2" font-size="15.2" textLength="147.5" lengthAdjust="spacingAndGlyphs">HOLDOWN W/ 18-10d</text>
<text x="1654.5" y="892.5" font-size="15.2" textLength="130.0" lengthAdjust="spacingAndGlyphs">NAILS OR EQUAL)</text>
<text x="1655.5" y="933.8" font-size="15.2" textLength="139.0" lengthAdjust="spacingAndGlyphs">HOLDOWN ANCHOR</text>
<text x="1655.5" y="953.8" font-size="15.2" textLength="198.2" lengthAdjust="spacingAndGlyphs">CONCRETE: ½"x12 SIMPSON</text>
<text x="1655.5" y="970.5" font-size="15.2" textLength="175.0" lengthAdjust="spacingAndGlyphs">TITEN HD (THD501200H)</text>
<text x="1655.5" y="1009.5" font-size="15.2" textLength="167.0" lengthAdjust="spacingAndGlyphs">STRAP OPTION (MONO:</text>
<text x="1655.5" y="1027.0" font-size="15.2" textLength="121.5" lengthAdjust="spacingAndGlyphs">SIMPSON STHD14</text>
<text x="1655.5" y="1044.5" font-size="15.2" textLength="159.5" lengthAdjust="spacingAndGlyphs">STRAP-TIE HOLDOWN.</text>
<text x="1655.5" y="1082.0" font-size="15.2" textLength="186.5" lengthAdjust="spacingAndGlyphs">CMU: ⅝" THREADED ROD</text>
<text x="1655.5" y="1099.5" font-size="15.2" textLength="156.5" lengthAdjust="spacingAndGlyphs">(EMBEDDED 12") WITH</text>
<text x="1655.5" y="1117.5" font-size="15.2" textLength="158.2" lengthAdjust="spacingAndGlyphs">SIMPSON SET EPOXY.</text>
<text x="1636.9" y="1168.5" font-size="23.9" textLength="276.6" lengthAdjust="spacingAndGlyphs">END CONDITION DETAIL</text>
<text x="1636.9" y="1192.6" font-size="18.7" textLength="500.7" lengthAdjust="spacingAndGlyphs">(FOR USE WITH SINGLE APA PORTAL FRAME CONDITION)</text>
<text x="1637.6" y="1211.2" font-size="14.5" textLength="481.7" lengthAdjust="spacingAndGlyphs">DETAIL AND APPLICATION BASED ON APA TT-100F WITH USE OF</text>
<text x="1637.6" y="1229.1" font-size="14.5" textLength="492.2" lengthAdjust="spacingAndGlyphs">TABLE 1 FOR APA PORTAL FRAME WITH HOLD-DOWN CAPACITIES.</text>
<text x="1589.7" y="1169.7" font-size="13.6" textLength="26.4" lengthAdjust="spacingAndGlyphs">902</text>
<text x="1593.8" y="1186.1" font-size="13.6" textLength="18.2" lengthAdjust="spacingAndGlyphs">SD</text>
<text x="499.5" y="1037.0" font-size="12.3" textLength="108.5" lengthAdjust="spacingAndGlyphs">(2) SIMPSON CS16</text>
<text x="499.5" y="1052.5" font-size="12.3" textLength="49.2" lengthAdjust="spacingAndGlyphs">STRAPS</text>
<text x="500.0" y="1090.0" font-size="12.3" textLength="105.5" lengthAdjust="spacingAndGlyphs">SOLID BLOCKING</text>
<text x="235.5" y="1108.2" font-size="12.3" textLength="106.5" lengthAdjust="spacingAndGlyphs">EXTEND 13" ONTO</text>
<text x="235.5" y="1123.8" font-size="12.3" textLength="83.8" lengthAdjust="spacingAndGlyphs">STUD COLUMN</text>
<text x="235.5" y="1258.2" font-size="12.3" textLength="106.5" lengthAdjust="spacingAndGlyphs">EXTEND 13" ONTO</text>
<text x="235.5" y="1273.8" font-size="12.3" textLength="83.8" lengthAdjust="spacingAndGlyphs">STUD COLUMN</text>
<text x="500.0" y="1283.2" font-size="12.3" textLength="99.2" lengthAdjust="spacingAndGlyphs">DBL TOP PLATE</text>
<text x="500.0" y="1312.5" font-size="12.3" textLength="123.0" lengthAdjust="spacingAndGlyphs">HEADER (SEE PLAN)</text>
<text x="380.5" y="1341.9" font-size="13.0" textLength="222.5" lengthAdjust="spacingAndGlyphs">BASE OF APA ON UPPER FLOOR</text>
<text x="897.1" y="1121.7" font-size="10.4" textLength="53.4" lengthAdjust="spacingAndGlyphs">SIDE WALL</text>
<text x="897.1" y="1138.4" font-size="10.4" textLength="49.2" lengthAdjust="spacingAndGlyphs">2x6 WALL</text>
<text x="902.8" y="1221.6" font-size="9.8" textLength="42.0" lengthAdjust="spacingAndGlyphs">OPENING</text>
<text x="765.5" y="1257.4" font-size="9.8" textLength="74.2" lengthAdjust="spacingAndGlyphs">EXTERIOR WSP</text>
<text x="765.5" y="1269.6" font-size="9.8" textLength="53.3" lengthAdjust="spacingAndGlyphs">SHEATHING</text>
<text x="892.9" y="1253.7" font-size="9.8" textLength="98.9" lengthAdjust="spacingAndGlyphs">3,500 LB HOLDOWN</text>
<text x="892.9" y="1266.8" font-size="9.8" textLength="74.3" lengthAdjust="spacingAndGlyphs">(SIMPSON HTT4</text>
<text x="892.9" y="1280.5" font-size="9.8" textLength="106.4" lengthAdjust="spacingAndGlyphs">HOLDOWN) OR EQUAL</text>
<text x="862.0" y="1319.6" font-size="13.4" textLength="72.1" lengthAdjust="spacingAndGlyphs">PLAN VIEW</text>
<text x="585.7" y="1464.7" font-size="14.5" textLength="76.0" lengthAdjust="spacingAndGlyphs">ELEVATION</text>
<text x="676.0" y="1455.6" font-size="13.6" textLength="27.9" lengthAdjust="spacingAndGlyphs">900</text>
<text x="681.0" y="1472.7" font-size="13.6" textLength="18.6" lengthAdjust="spacingAndGlyphs">SD</text>
<text x="724.4" y="1455.6" font-size="23.5" textLength="455.1" lengthAdjust="spacingAndGlyphs">APA PORTAL FRAME W/ HOLD-DOWNS</text>
<text x="724.4" y="1475.5" font-size="14.5" textLength="455.1" lengthAdjust="spacingAndGlyphs">DETAIL AND APPLICATION BASED ON APA TT-100F WITH USE</text>
<text x="724.4" y="1493.2" font-size="14.5" textLength="419.5" lengthAdjust="spacingAndGlyphs">OF TABLE 1 FOR APA PORTAL FRAME WITH HOLD-DOWN</text>
<text x="724.4" y="1510.6" font-size="14.5" textLength="90.6" lengthAdjust="spacingAndGlyphs">CAPACITIES.</text>
<text transform="translate(393.8,690.0) rotate(-90)" font-size="16.0" textLength="241.2" lengthAdjust="spacingAndGlyphs">12'-0" MAX TOTAL WALL HEIGHT</text>
<text transform="translate(557.0,650.0) rotate(-90)" font-size="16.0" textLength="92.5" lengthAdjust="spacingAndGlyphs">10'-0" (MAX)</text>
<text transform="translate(546.0,487.5) rotate(-90)" font-size="14.0" textLength="27.5" lengthAdjust="spacingAndGlyphs">20"</text>
<text x="478.8" y="550.0" font-size="16.3" textLength="26.8" lengthAdjust="spacingAndGlyphs">SEE</text>
<text x="478.8" y="566.2" font-size="12.0" textLength="26.2" lengthAdjust="spacingAndGlyphs">PLAN</text>
</svg>
</body></html>
